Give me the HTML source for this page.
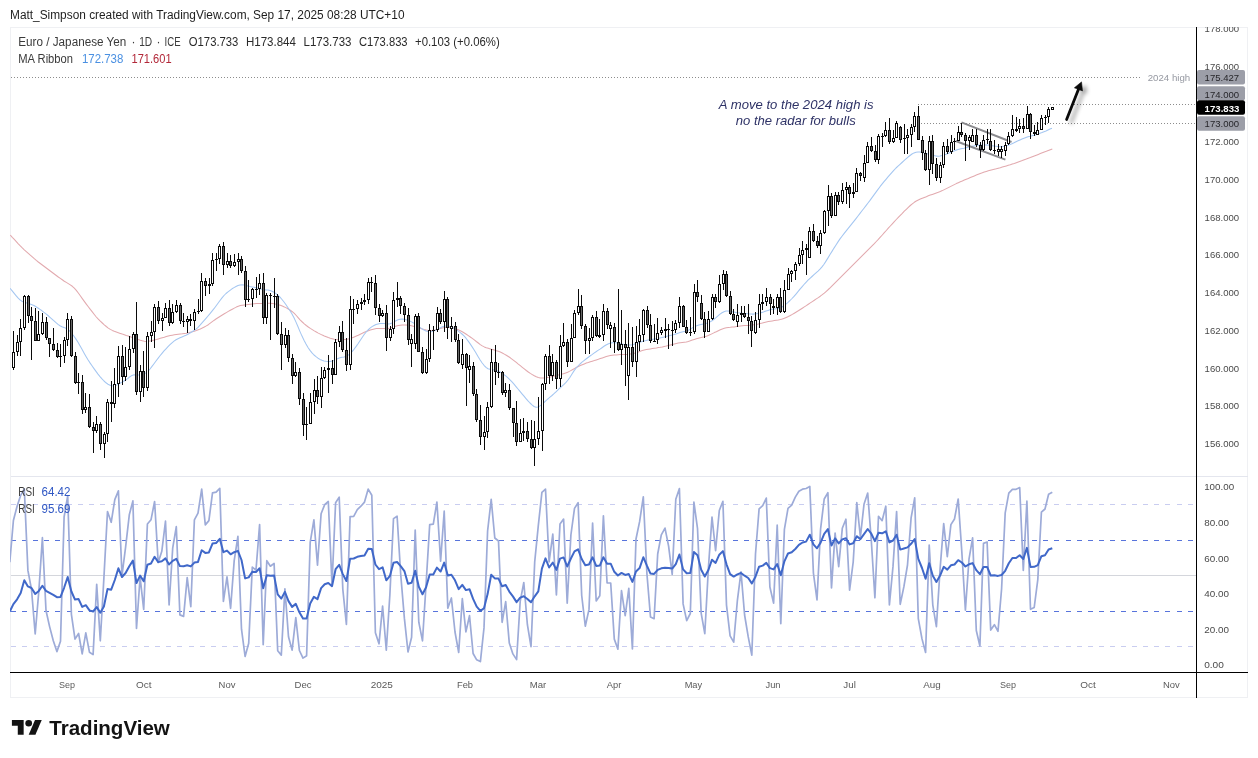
<!DOCTYPE html>
<html><head><meta charset="utf-8"><title>EUR/JPY chart</title>
<style>
html,body{margin:0;padding:0;background:#fff;}
body{width:1258px;height:758px;overflow:hidden;position:relative;font-family:"Liberation Sans",sans-serif;}
svg{position:absolute;left:0;top:0;display:block;will-change:transform}
svg text{font-family:"Liberation Sans",sans-serif;}
</style></head><body>
<svg width="1258" height="758" viewBox="0 0 1258 758">
<defs>
<filter id="sh" x="-50%" y="-50%" width="200%" height="200%"><feGaussianBlur stdDeviation="2"/></filter>
<clipPath id="cp"><rect x="10" y="27" width="1238" height="671"/></clipPath>
</defs>
<rect width="1258" height="758" fill="#fff"/>
<!-- frame -->
<rect x="10.5" y="27.5" width="1237" height="670" fill="none" stroke="#eff0f3" stroke-width="1"/>
<!-- pane separator -->
<rect x="11" y="476" width="1237" height="1" fill="#e4e6ee"/>
<!-- RSI guide lines -->
<g shape-rendering="crispEdges">
<line x1="11" x2="1193" y1="504.5" y2="504.5" stroke="#c9cdf0" stroke-width="1" stroke-dasharray="5 6.1"/>
<line x1="11" x2="1193" y1="540.5" y2="540.5" stroke="#5874dc" stroke-width="1" stroke-dasharray="5 6.1"/>
<line x1="11" x2="1196" y1="575.5" y2="575.5" stroke="#d4d6dc" stroke-width="1"/>
<line x1="11" x2="1193" y1="611.5" y2="611.5" stroke="#5874dc" stroke-width="1" stroke-dasharray="5 6.1"/>
<line x1="11" x2="1193" y1="646.5" y2="646.5" stroke="#c9cdf0" stroke-width="1" stroke-dasharray="5 6.1"/>
</g>
<!-- dotted price lines -->
<g shape-rendering="crispEdges" stroke="#8c8c8c" stroke-width="1" stroke-dasharray="1 2">
<line x1="11" x2="1142" y1="77.5" y2="77.5"/>
<line x1="918" x2="1196" y1="104.5" y2="104.5"/>
<line x1="921" x2="1196" y1="123.5" y2="123.5"/>
</g>
<g clip-path="url(#cp)">
<!-- moving averages -->
<polyline points="10.3,235.1 12.3,237.3 14.3,239.4 16.3,241.6 18.3,243.8 20.3,245.9 22.3,247.9 24.3,249.8 26.3,251.6 28.3,253.4 30.3,255.2 32.3,256.9 34.3,258.7 36.3,260.4 38.3,262.0 40.3,263.5 42.3,265.0 44.3,266.5 46.3,268.0 48.3,269.5 50.3,271.0 52.3,272.5 54.3,274.0 56.3,275.5 58.3,277.0 60.3,278.4 62.3,279.8 64.3,281.2 66.3,282.4 68.3,283.6 70.3,284.9 72.3,286.3 74.3,288.1 76.3,290.4 78.3,293.0 80.3,295.8 82.3,298.6 84.3,301.4 86.3,304.1 88.3,306.7 90.3,309.4 92.3,311.9 94.3,314.5 96.3,317.0 98.3,319.2 100.3,321.2 102.3,323.0 104.3,324.8 106.3,326.5 108.3,328.1 110.3,329.4 112.3,330.4 114.3,331.3 116.3,332.0 118.3,332.7 120.3,333.4 122.3,334.1 124.3,334.7 126.3,335.4 128.3,336.0 130.3,336.7 132.3,337.4 134.3,338.1 136.3,338.7 138.3,339.5 140.3,340.2 142.3,340.8 144.3,341.3 146.3,341.5 148.3,341.3 150.3,340.9 152.3,340.5 154.3,340.0 156.3,339.5 158.3,338.9 160.3,338.3 162.3,337.7 164.3,337.2 166.3,336.6 168.3,336.1 170.3,335.6 172.3,335.2 174.3,334.8 176.3,334.5 178.3,334.2 180.3,334.0 182.3,333.8 184.3,333.5 186.3,333.2 188.3,332.8 190.3,332.3 192.3,331.8 194.3,331.2 196.3,330.5 198.3,329.7 200.3,328.9 202.3,328.0 204.3,327.0 206.3,325.9 208.3,324.7 210.3,323.2 212.3,321.7 214.3,320.2 216.3,318.8 218.3,317.5 220.3,316.2 222.3,315.0 224.3,313.8 226.3,312.6 228.3,311.4 230.3,310.3 232.3,309.2 234.3,308.1 236.3,307.1 238.3,306.3 240.3,305.6 242.3,305.2 244.3,305.0 246.3,304.8 248.3,304.5 250.3,304.2 252.3,303.9 254.3,303.7 256.3,303.5 258.3,303.4 260.3,303.4 262.3,303.4 264.3,303.3 266.3,303.3 268.3,303.2 270.3,303.3 272.3,303.4 274.3,303.8 276.3,304.2 278.3,304.7 280.3,305.3 282.3,306.1 284.3,306.9 286.3,307.9 288.3,309.0 290.3,310.3 292.3,311.7 294.3,313.4 296.3,315.5 298.3,317.8 300.3,320.1 302.3,322.0 304.3,323.8 306.3,325.5 308.3,327.0 310.3,328.4 312.3,329.6 314.3,330.9 316.3,332.0 318.3,333.1 320.3,334.1 322.3,335.1 324.3,336.0 326.3,336.8 328.3,337.6 330.3,338.3 332.3,338.8 334.3,339.3 336.3,339.6 338.3,339.8 340.3,339.9 342.3,339.8 344.3,339.6 346.3,339.3 348.3,338.9 350.3,338.4 352.3,337.7 354.3,336.9 356.3,336.1 358.3,335.2 360.3,334.2 362.3,333.3 364.3,332.3 366.3,331.5 368.3,330.7 370.3,330.0 372.3,329.4 374.3,328.9 376.3,328.6 378.3,328.5 380.3,328.4 382.3,328.4 384.3,328.5 386.3,328.5 388.3,328.4 390.3,328.1 392.3,327.4 394.3,326.7 396.3,326.1 398.3,325.6 400.3,325.2 402.3,325.0 404.3,325.0 406.3,325.1 408.3,325.3 410.3,325.6 412.3,325.9 414.3,326.4 416.3,326.9 418.3,327.5 420.3,328.2 422.3,328.9 424.3,329.5 426.3,330.0 428.3,330.3 430.3,330.4 432.3,330.3 434.3,330.1 436.3,329.7 438.3,329.1 440.3,328.5 442.3,327.9 444.3,327.6 446.3,327.4 448.3,327.3 450.3,327.5 452.3,327.8 454.3,328.3 456.3,328.9 458.3,329.8 460.3,330.8 462.3,331.8 464.3,333.0 466.3,334.3 468.3,335.6 470.3,337.0 472.3,338.4 474.3,339.9 476.3,341.5 478.3,343.0 480.3,344.6 482.3,345.9 484.3,346.9 486.3,347.7 488.3,348.3 490.3,348.9 492.3,349.5 494.3,350.1 496.3,350.7 498.3,351.3 500.3,352.1 502.3,353.0 504.3,354.1 506.3,355.2 508.3,356.5 510.3,357.8 512.3,359.3 514.3,360.8 516.3,362.4 518.3,364.1 520.3,365.7 522.3,367.3 524.3,368.9 526.3,370.5 528.3,372.0 530.3,373.4 532.3,374.6 534.3,375.8 536.3,376.8 538.3,377.5 540.3,377.9 542.3,378.0 544.3,377.9 546.3,377.7 548.3,377.3 550.3,376.9 552.3,376.4 554.3,375.9 556.3,375.5 558.3,375.0 560.3,374.5 562.3,374.0 564.3,373.4 566.3,372.8 568.3,371.9 570.3,370.9 572.3,369.8 574.3,368.6 576.3,367.5 578.3,366.5 580.3,365.5 582.3,364.7 584.3,363.9 586.3,363.1 588.3,362.5 590.3,361.8 592.3,361.2 594.3,360.6 596.3,359.9 598.3,359.3 600.3,358.6 602.3,357.9 604.3,357.2 606.3,356.5 608.3,356.0 610.3,355.6 612.3,355.3 614.3,355.1 616.3,354.9 618.3,354.7 620.3,354.6 622.3,354.5 624.3,354.5 626.3,354.4 628.3,354.3 630.3,354.0 632.3,353.6 634.3,353.2 636.3,352.6 638.3,351.9 640.3,351.2 642.3,350.6 644.3,350.1 646.3,349.6 648.3,349.2 650.3,348.9 652.3,348.6 654.3,348.3 656.3,348.0 658.3,347.6 660.3,347.3 662.3,346.9 664.3,346.4 666.3,346.0 668.3,345.5 670.3,345.0 672.3,344.5 674.3,344.0 676.3,343.5 678.3,343.1 680.3,342.8 682.3,342.5 684.3,342.2 686.3,341.9 688.3,341.4 690.3,340.8 692.3,340.1 694.3,339.4 696.3,338.8 698.3,338.3 700.3,337.8 702.3,337.3 704.3,336.8 706.3,336.2 708.3,335.5 710.3,334.6 712.3,333.6 714.3,332.6 716.3,331.7 718.3,330.7 720.3,329.8 722.3,328.9 724.3,328.3 726.3,327.8 728.3,327.4 730.3,327.3 732.3,327.1 734.3,326.9 736.3,326.6 738.3,326.3 740.3,326.0 742.3,325.8 744.3,325.6 746.3,325.5 748.3,325.4 750.3,325.2 752.3,325.0 754.3,324.7 756.3,324.4 758.3,324.0 760.3,323.5 762.3,323.0 764.3,322.4 766.3,322.0 768.3,321.6 770.3,321.2 772.3,320.9 774.3,320.6 776.3,320.3 778.3,320.0 780.3,319.6 782.3,319.0 784.3,318.3 786.3,317.4 788.3,316.5 790.3,315.5 792.3,314.4 794.3,313.2 796.3,312.0 798.3,310.8 800.3,309.5 802.3,308.2 804.3,306.9 806.3,305.6 808.3,304.2 810.3,302.9 812.3,301.6 814.3,300.3 816.3,298.9 818.3,297.6 820.3,296.2 822.3,294.7 824.3,293.1 826.3,291.3 828.3,289.5 830.3,287.6 832.3,285.6 834.3,283.6 836.3,281.6 838.3,279.6 840.3,277.6 842.3,275.6 844.3,273.6 846.3,271.6 848.3,269.6 850.3,267.6 852.3,265.6 854.3,263.6 856.3,261.6 858.3,259.6 860.3,257.6 862.3,255.6 864.3,253.6 866.3,251.6 868.3,249.6 870.3,247.6 872.3,245.6 874.3,243.6 876.3,241.5 878.3,239.4 880.3,237.2 882.3,235.0 884.3,232.7 886.3,230.5 888.3,228.2 890.3,226.0 892.3,223.8 894.3,221.6 896.3,219.5 898.3,217.4 900.3,215.3 902.3,213.3 904.3,211.2 906.3,209.3 908.3,207.4 910.3,205.5 912.3,203.8 914.3,202.3 916.3,201.0 918.3,200.0 920.3,199.1 922.3,198.3 924.3,197.5 926.3,196.7 928.3,195.8 930.3,195.1 932.3,194.4 934.3,193.7 936.3,193.0 938.3,192.3 940.3,191.5 942.3,190.6 944.3,189.6 946.3,188.6 948.3,187.6 950.3,186.6 952.3,185.6 954.3,184.6 956.3,183.6 958.3,182.7 960.3,181.8 962.3,181.0 964.3,180.1 966.3,179.2 968.3,178.4 970.3,177.5 972.3,176.7 974.3,175.9 976.3,175.1 978.3,174.3 980.3,173.5 982.3,172.8 984.3,172.0 986.3,171.4 988.3,170.8 990.3,170.3 992.3,169.8 994.3,169.3 996.3,168.8 998.3,168.2 1000.3,167.7 1002.3,167.1 1004.3,166.5 1006.3,165.9 1008.3,165.3 1010.3,164.7 1012.3,164.0 1014.3,163.4 1016.3,162.7 1018.3,162.0 1020.3,161.3 1022.3,160.6 1024.3,159.8 1026.3,159.1 1028.3,158.3 1030.3,157.6 1032.3,156.8 1034.3,156.0 1036.3,155.2 1038.3,154.4 1040.3,153.6 1042.3,152.8 1044.3,152.0 1046.3,151.3 1048.3,150.5 1050.3,149.7 1052.3,148.9 1052.3,148.9" fill="none" stroke="#e2a9ae" stroke-width="1.05" stroke-linejoin="round"/>
<polyline points="10.0,288.3 12.0,290.7 14.0,293.2 16.0,295.6 18.0,297.9 20.0,299.9 22.0,301.3 24.0,302.2 26.0,302.8 28.0,303.4 30.0,304.0 32.0,304.7 34.0,305.5 36.0,306.7 38.0,308.0 40.0,309.4 42.0,310.8 44.0,312.3 46.0,313.8 48.0,315.5 50.0,317.3 52.0,319.1 54.0,320.9 56.0,322.7 58.0,324.4 60.0,325.7 62.0,326.7 64.0,327.5 66.0,328.3 68.0,329.5 70.0,331.4 72.0,333.7 74.0,336.3 76.0,339.1 78.0,342.3 80.0,345.7 82.0,349.3 84.0,352.9 86.0,356.4 88.0,359.8 90.0,362.9 92.0,365.8 94.0,368.6 96.0,371.4 98.0,374.1 100.0,376.6 102.0,378.9 104.0,381.0 106.0,382.8 108.0,384.2 110.0,385.2 112.0,385.8 114.0,385.9 116.0,385.4 118.0,384.4 120.0,383.2 122.0,382.1 124.0,381.0 126.0,379.8 128.0,378.3 130.0,376.7 132.0,375.4 134.0,374.8 136.0,374.9 138.0,375.0 140.0,374.9 142.0,374.5 144.0,373.9 146.0,372.9 148.0,371.3 150.0,369.0 152.0,366.4 154.0,363.7 156.0,361.0 158.0,358.4 160.0,355.8 162.0,353.3 164.0,350.9 166.0,348.8 168.0,346.7 170.0,344.7 172.0,342.8 174.0,341.1 176.0,339.8 178.0,338.7 180.0,337.8 182.0,336.9 184.0,336.1 186.0,335.2 188.0,334.2 190.0,333.0 192.0,331.8 194.0,330.5 196.0,329.1 198.0,327.3 200.0,325.2 202.0,322.9 204.0,320.7 206.0,318.4 208.0,316.0 210.0,313.7 212.0,311.2 214.0,308.7 216.0,306.0 218.0,303.3 220.0,300.5 222.0,297.9 224.0,295.5 226.0,293.5 228.0,291.8 230.0,290.3 232.0,288.8 234.0,287.6 236.0,286.5 238.0,285.5 240.0,284.9 242.0,284.8 244.0,285.0 246.0,285.5 248.0,286.0 250.0,286.5 252.0,286.9 254.0,287.3 256.0,287.8 258.0,288.3 260.0,288.7 262.0,289.2 264.0,289.6 266.0,289.9 268.0,290.1 270.0,290.5 272.0,291.2 274.0,292.3 276.0,293.6 278.0,295.3 280.0,297.2 282.0,299.5 284.0,302.0 286.0,304.8 288.0,307.7 290.0,310.8 292.0,314.1 294.0,317.8 296.0,322.1 298.0,326.8 300.0,331.6 302.0,336.1 304.0,340.3 306.0,344.1 308.0,347.5 310.0,350.4 312.0,352.9 314.0,355.0 316.0,356.7 318.0,358.2 320.0,359.4 322.0,360.3 324.0,360.9 326.0,361.3 328.0,361.5 330.0,361.4 332.0,361.0 334.0,360.4 336.0,359.5 338.0,358.6 340.0,357.8 342.0,357.3 344.0,357.0 346.0,356.4 348.0,355.3 350.0,353.7 352.0,351.6 354.0,349.3 356.0,346.6 358.0,343.8 360.0,340.8 362.0,337.7 364.0,334.8 366.0,332.2 368.0,330.0 370.0,328.2 372.0,326.6 374.0,325.5 376.0,324.5 378.0,323.9 380.0,323.6 382.0,323.5 384.0,323.6 386.0,323.8 388.0,324.0 390.0,323.8 392.0,323.0 394.0,321.8 396.0,320.7 398.0,319.8 400.0,319.2 402.0,319.0 404.0,319.2 406.0,319.7 408.0,320.3 410.0,321.1 412.0,322.1 414.0,323.2 416.0,324.5 418.0,325.8 420.0,327.3 422.0,328.8 424.0,330.1 426.0,331.0 428.0,331.6 430.0,331.7 432.0,331.4 434.0,330.7 436.0,329.9 438.0,329.0 440.0,328.0 442.0,327.0 444.0,326.3 446.0,325.9 448.0,326.1 450.0,326.6 452.0,327.4 454.0,328.4 456.0,329.6 458.0,330.9 460.0,332.4 462.0,334.0 464.0,335.9 466.0,338.2 468.0,340.9 470.0,343.6 472.0,346.6 474.0,349.7 476.0,353.0 478.0,356.4 480.0,359.7 482.0,362.7 484.0,365.3 486.0,367.4 488.0,368.7 490.0,369.2 492.0,369.5 494.0,369.9 496.0,370.5 498.0,371.2 500.0,372.0 502.0,373.1 504.0,374.6 506.0,376.2 508.0,377.9 510.0,379.8 512.0,381.9 514.0,384.2 516.0,386.6 518.0,389.0 520.0,391.4 522.0,393.8 524.0,396.2 526.0,398.6 528.0,400.9 530.0,403.0 532.0,404.9 534.0,406.5 536.0,407.3 538.0,407.0 540.0,405.9 542.0,404.3 544.0,402.5 546.0,400.6 548.0,398.8 550.0,397.1 552.0,395.5 554.0,393.7 556.0,391.8 558.0,389.9 560.0,388.0 562.0,386.1 564.0,384.3 566.0,382.3 568.0,380.0 570.0,377.2 572.0,374.0 574.0,370.9 576.0,368.2 578.0,366.0 580.0,364.0 582.0,362.2 584.0,360.6 586.0,359.0 588.0,357.5 590.0,356.0 592.0,354.6 594.0,353.1 596.0,351.8 598.0,350.4 600.0,349.1 602.0,347.7 604.0,346.3 606.0,345.0 608.0,344.0 610.0,343.3 612.0,342.8 614.0,342.7 616.0,342.7 618.0,343.0 620.0,343.4 622.0,343.9 624.0,344.4 626.0,344.9 628.0,345.1 630.0,345.0 632.0,344.7 634.0,344.2 636.0,343.6 638.0,342.9 640.0,342.2 642.0,341.6 644.0,341.0 646.0,340.6 648.0,340.1 650.0,339.7 652.0,339.4 654.0,339.0 656.0,338.7 658.0,338.4 660.0,338.0 662.0,337.6 664.0,337.1 666.0,336.5 668.0,336.0 670.0,335.5 672.0,335.1 674.0,334.6 676.0,333.9 678.0,333.2 680.0,332.6 682.0,332.0 684.0,331.6 686.0,331.2 688.0,330.5 690.0,329.4 692.0,328.1 694.0,326.9 696.0,325.9 698.0,325.2 700.0,324.7 702.0,324.3 704.0,323.9 706.0,323.5 708.0,322.8 710.0,321.9 712.0,320.7 714.0,319.3 716.0,317.6 718.0,315.8 720.0,314.1 722.0,312.7 724.0,311.7 726.0,311.1 728.0,311.0 730.0,311.3 732.0,311.7 734.0,312.1 736.0,312.5 738.0,312.8 740.0,313.0 742.0,313.2 744.0,313.4 746.0,313.6 748.0,313.8 750.0,314.0 752.0,314.1 754.0,314.1 756.0,313.8 758.0,313.5 760.0,313.0 762.0,312.4 764.0,311.8 766.0,311.1 768.0,310.4 770.0,309.8 772.0,309.2 774.0,308.9 776.0,308.7 778.0,308.4 780.0,307.9 782.0,307.0 784.0,305.7 786.0,304.1 788.0,302.4 790.0,300.5 792.0,298.5 794.0,296.4 796.0,294.1 798.0,291.7 800.0,289.2 802.0,286.8 804.0,284.5 806.0,282.3 808.0,280.2 810.0,278.3 812.0,276.5 814.0,274.7 816.0,272.9 818.0,271.1 820.0,269.2 822.0,266.9 824.0,264.2 826.0,261.1 828.0,257.9 830.0,254.6 832.0,251.4 834.0,248.1 836.0,245.0 838.0,241.9 840.0,238.9 842.0,236.2 844.0,233.6 846.0,231.1 848.0,228.7 850.0,226.2 852.0,223.7 854.0,221.2 856.0,218.6 858.0,216.0 860.0,213.4 862.0,210.8 864.0,208.2 866.0,205.6 868.0,203.0 870.0,200.4 872.0,197.6 874.0,194.9 876.0,192.1 878.0,189.4 880.0,186.7 882.0,184.2 884.0,181.7 886.0,179.3 888.0,176.9 890.0,174.6 892.0,172.3 894.0,170.1 896.0,168.0 898.0,166.1 900.0,164.3 902.0,162.5 904.0,160.7 906.0,158.9 908.0,157.2 910.0,155.5 912.0,154.0 914.0,152.9 916.0,152.2 918.0,152.0 920.0,152.1 922.0,152.5 924.0,153.1 926.0,153.6 928.0,154.1 930.0,154.6 932.0,155.1 934.0,155.6 936.0,155.9 938.0,156.2 940.0,156.1 942.0,155.6 944.0,154.9 946.0,154.2 948.0,153.4 950.0,152.6 952.0,151.8 954.0,151.0 956.0,150.3 958.0,149.6 960.0,149.1 962.0,148.6 964.0,148.2 966.0,147.7 968.0,147.2 970.0,146.8 972.0,146.3 974.0,145.9 976.0,145.6 978.0,145.3 980.0,145.1 982.0,145.0 984.0,144.9 986.0,144.9 988.0,145.1 990.0,145.4 992.0,145.7 994.0,146.1 996.0,146.3 998.0,146.6 1000.0,146.7 1002.0,146.5 1004.0,146.2 1006.0,145.8 1008.0,145.2 1010.0,144.5 1012.0,143.7 1014.0,142.8 1016.0,141.8 1018.0,140.8 1020.0,139.9 1022.0,139.0 1024.0,138.2 1026.0,137.5 1028.0,136.8 1030.0,136.3 1032.0,135.7 1034.0,135.2 1036.0,134.7 1038.0,134.0 1040.0,133.3 1042.0,132.6 1044.0,131.7 1046.0,130.9 1048.0,130.0 1050.0,129.1 1052.0,128.3 1052.0,128.3" fill="none" stroke="#a4c6f1" stroke-width="1.05" stroke-linejoin="round"/>
<!-- channel -->
<line x1="961.5" y1="122.4" x2="1011.5" y2="142" stroke="#8a8a8e" stroke-width="2"/>
<line x1="955.7" y1="141" x2="1005.4" y2="159.6" stroke="#8a8a8e" stroke-width="2"/>
<!-- candles -->
<g shape-rendering="crispEdges">
<rect x="13.00" y="331" width="1.0" height="39" fill="#0a0a0a"/>
<rect x="12.00" y="352" width="3.0" height="16" fill="#0a0a0a"/>
<rect x="13.00" y="353" width="1" height="14" fill="#fff"/>
<rect x="17.00" y="335" width="1.0" height="21" fill="#0a0a0a"/>
<rect x="16.00" y="342" width="3.0" height="10" fill="#0a0a0a"/>
<rect x="17.00" y="343" width="1" height="8" fill="#fff"/>
<rect x="20.00" y="319" width="1.0" height="37" fill="#0a0a0a"/>
<rect x="19.00" y="328" width="3.0" height="14" fill="#0a0a0a"/>
<rect x="20.00" y="329" width="1" height="12" fill="#fff"/>
<rect x="24.00" y="295" width="1.0" height="35" fill="#0a0a0a"/>
<rect x="23.00" y="296" width="3.0" height="32" fill="#0a0a0a"/>
<rect x="24.00" y="297" width="1" height="30" fill="#fff"/>
<rect x="28.00" y="295" width="1.0" height="28" fill="#0a0a0a"/>
<rect x="27.00" y="296" width="3.0" height="20" fill="#0a0a0a"/>
<rect x="28.00" y="297" width="1" height="18" fill="#666"/>
<rect x="31.00" y="307" width="1.0" height="53" fill="#0a0a0a"/>
<rect x="30.00" y="316" width="3.0" height="5" fill="#0a0a0a"/>
<rect x="31.00" y="317" width="1" height="3" fill="#666"/>
<rect x="35.00" y="308" width="1.0" height="33" fill="#0a0a0a"/>
<rect x="34.00" y="321" width="3.0" height="20" fill="#0a0a0a"/>
<rect x="35.00" y="322" width="1" height="18" fill="#666"/>
<rect x="38.00" y="311" width="1.0" height="30" fill="#0a0a0a"/>
<rect x="37.00" y="334" width="3.0" height="7" fill="#0a0a0a"/>
<rect x="38.00" y="335" width="1" height="5" fill="#fff"/>
<rect x="42.00" y="313" width="1.0" height="22" fill="#0a0a0a"/>
<rect x="41.00" y="322" width="3.0" height="12" fill="#0a0a0a"/>
<rect x="42.00" y="323" width="1" height="10" fill="#fff"/>
<rect x="46.00" y="317" width="1.0" height="23" fill="#0a0a0a"/>
<rect x="45.00" y="322" width="3.0" height="16" fill="#0a0a0a"/>
<rect x="46.00" y="323" width="1" height="14" fill="#666"/>
<rect x="49.00" y="338" width="1.0" height="19" fill="#0a0a0a"/>
<rect x="48.00" y="338" width="3.0" height="6" fill="#0a0a0a"/>
<rect x="49.00" y="339" width="1" height="4" fill="#666"/>
<rect x="53.00" y="328" width="1.0" height="23" fill="#0a0a0a"/>
<rect x="52.00" y="344" width="3.0" height="6" fill="#0a0a0a"/>
<rect x="53.00" y="345" width="1" height="4" fill="#666"/>
<rect x="57.00" y="343" width="1.0" height="15" fill="#0a0a0a"/>
<rect x="56.00" y="350" width="3.0" height="7" fill="#0a0a0a"/>
<rect x="57.00" y="351" width="1" height="5" fill="#666"/>
<rect x="60.00" y="344" width="1.0" height="23" fill="#0a0a0a"/>
<rect x="59.00" y="356" width="3.0" height="1" fill="#0a0a0a"/>
<rect x="64.00" y="337" width="1.0" height="26" fill="#0a0a0a"/>
<rect x="63.00" y="340" width="3.0" height="16" fill="#0a0a0a"/>
<rect x="64.00" y="341" width="1" height="14" fill="#fff"/>
<rect x="67.00" y="313" width="1.0" height="33" fill="#0a0a0a"/>
<rect x="66.00" y="319" width="3.0" height="21" fill="#0a0a0a"/>
<rect x="67.00" y="320" width="1" height="19" fill="#fff"/>
<rect x="71.00" y="316" width="1.0" height="41" fill="#0a0a0a"/>
<rect x="70.00" y="319" width="3.0" height="37" fill="#0a0a0a"/>
<rect x="71.00" y="320" width="1" height="35" fill="#666"/>
<rect x="75.00" y="352" width="1.0" height="32" fill="#0a0a0a"/>
<rect x="74.00" y="356" width="3.0" height="27" fill="#0a0a0a"/>
<rect x="75.00" y="357" width="1" height="25" fill="#666"/>
<rect x="78.00" y="373" width="1.0" height="21" fill="#0a0a0a"/>
<rect x="77.00" y="382" width="3.0" height="1" fill="#0a0a0a"/>
<rect x="82.00" y="375" width="1.0" height="39" fill="#0a0a0a"/>
<rect x="81.00" y="382" width="3.0" height="28" fill="#0a0a0a"/>
<rect x="82.00" y="383" width="1" height="26" fill="#666"/>
<rect x="85.00" y="393" width="1.0" height="20" fill="#0a0a0a"/>
<rect x="84.00" y="407" width="3.0" height="3" fill="#0a0a0a"/>
<rect x="85.00" y="408" width="1" height="1" fill="#fff"/>
<rect x="89.00" y="394" width="1.0" height="34" fill="#0a0a0a"/>
<rect x="88.00" y="407" width="3.0" height="20" fill="#0a0a0a"/>
<rect x="89.00" y="408" width="1" height="18" fill="#666"/>
<rect x="93.00" y="422" width="1.0" height="31" fill="#0a0a0a"/>
<rect x="92.00" y="427" width="3.0" height="4" fill="#0a0a0a"/>
<rect x="93.00" y="428" width="1" height="2" fill="#666"/>
<rect x="96.00" y="416" width="1.0" height="17" fill="#0a0a0a"/>
<rect x="95.00" y="424" width="3.0" height="7" fill="#0a0a0a"/>
<rect x="96.00" y="425" width="1" height="5" fill="#fff"/>
<rect x="100.00" y="422" width="1.0" height="28" fill="#0a0a0a"/>
<rect x="99.00" y="424" width="3.0" height="20" fill="#0a0a0a"/>
<rect x="100.00" y="425" width="1" height="18" fill="#666"/>
<rect x="104.00" y="432" width="1.0" height="26" fill="#0a0a0a"/>
<rect x="103.00" y="434" width="3.0" height="10" fill="#0a0a0a"/>
<rect x="104.00" y="435" width="1" height="8" fill="#fff"/>
<rect x="107.00" y="399" width="1.0" height="43" fill="#0a0a0a"/>
<rect x="106.00" y="402" width="3.0" height="32" fill="#0a0a0a"/>
<rect x="107.00" y="403" width="1" height="30" fill="#fff"/>
<rect x="111.00" y="381" width="1.0" height="41" fill="#0a0a0a"/>
<rect x="110.00" y="402" width="3.0" height="2" fill="#0a0a0a"/>
<rect x="114.00" y="368" width="1.0" height="40" fill="#0a0a0a"/>
<rect x="113.00" y="384" width="3.0" height="20" fill="#0a0a0a"/>
<rect x="114.00" y="385" width="1" height="18" fill="#fff"/>
<rect x="118.00" y="346" width="1.0" height="51" fill="#0a0a0a"/>
<rect x="117.00" y="356" width="3.0" height="28" fill="#0a0a0a"/>
<rect x="118.00" y="357" width="1" height="26" fill="#fff"/>
<rect x="122.00" y="345" width="1.0" height="40" fill="#0a0a0a"/>
<rect x="121.00" y="356" width="3.0" height="21" fill="#0a0a0a"/>
<rect x="122.00" y="357" width="1" height="19" fill="#666"/>
<rect x="125.00" y="347" width="1.0" height="34" fill="#0a0a0a"/>
<rect x="124.00" y="367" width="3.0" height="10" fill="#0a0a0a"/>
<rect x="125.00" y="368" width="1" height="8" fill="#fff"/>
<rect x="129.00" y="336" width="1.0" height="34" fill="#0a0a0a"/>
<rect x="128.00" y="349" width="3.0" height="18" fill="#0a0a0a"/>
<rect x="129.00" y="350" width="1" height="16" fill="#fff"/>
<rect x="133.00" y="332" width="1.0" height="21" fill="#0a0a0a"/>
<rect x="132.00" y="334" width="3.0" height="15" fill="#0a0a0a"/>
<rect x="133.00" y="335" width="1" height="13" fill="#fff"/>
<rect x="136.00" y="302" width="1.0" height="93" fill="#0a0a0a"/>
<rect x="135.00" y="334" width="3.0" height="58" fill="#0a0a0a"/>
<rect x="136.00" y="335" width="1" height="56" fill="#666"/>
<rect x="140.00" y="365" width="1.0" height="37" fill="#0a0a0a"/>
<rect x="139.00" y="371" width="3.0" height="21" fill="#0a0a0a"/>
<rect x="140.00" y="372" width="1" height="19" fill="#fff"/>
<rect x="143.00" y="351" width="1.0" height="46" fill="#0a0a0a"/>
<rect x="142.00" y="371" width="3.0" height="17" fill="#0a0a0a"/>
<rect x="143.00" y="372" width="1" height="15" fill="#666"/>
<rect x="147.00" y="332" width="1.0" height="59" fill="#0a0a0a"/>
<rect x="146.00" y="336" width="3.0" height="52" fill="#0a0a0a"/>
<rect x="147.00" y="337" width="1" height="50" fill="#fff"/>
<rect x="151.00" y="321" width="1.0" height="21" fill="#0a0a0a"/>
<rect x="150.00" y="332" width="3.0" height="4" fill="#0a0a0a"/>
<rect x="151.00" y="333" width="1" height="2" fill="#fff"/>
<rect x="154.00" y="304" width="1.0" height="44" fill="#0a0a0a"/>
<rect x="153.00" y="307" width="3.0" height="25" fill="#0a0a0a"/>
<rect x="154.00" y="308" width="1" height="23" fill="#fff"/>
<rect x="158.00" y="301" width="1.0" height="23" fill="#0a0a0a"/>
<rect x="157.00" y="307" width="3.0" height="14" fill="#0a0a0a"/>
<rect x="158.00" y="308" width="1" height="12" fill="#666"/>
<rect x="162.00" y="313" width="1.0" height="18" fill="#0a0a0a"/>
<rect x="161.00" y="318" width="3.0" height="3" fill="#0a0a0a"/>
<rect x="162.00" y="319" width="1" height="1" fill="#fff"/>
<rect x="165.00" y="303" width="1.0" height="15" fill="#0a0a0a"/>
<rect x="164.00" y="308" width="3.0" height="10" fill="#0a0a0a"/>
<rect x="165.00" y="309" width="1" height="8" fill="#fff"/>
<rect x="169.00" y="300" width="1.0" height="26" fill="#0a0a0a"/>
<rect x="168.00" y="308" width="3.0" height="15" fill="#0a0a0a"/>
<rect x="169.00" y="309" width="1" height="13" fill="#666"/>
<rect x="172.00" y="304" width="1.0" height="20" fill="#0a0a0a"/>
<rect x="171.00" y="312" width="3.0" height="11" fill="#0a0a0a"/>
<rect x="172.00" y="313" width="1" height="9" fill="#fff"/>
<rect x="176.00" y="300" width="1.0" height="13" fill="#0a0a0a"/>
<rect x="175.00" y="305" width="3.0" height="7" fill="#0a0a0a"/>
<rect x="176.00" y="306" width="1" height="5" fill="#fff"/>
<rect x="180.00" y="303" width="1.0" height="21" fill="#0a0a0a"/>
<rect x="179.00" y="305" width="3.0" height="16" fill="#0a0a0a"/>
<rect x="180.00" y="306" width="1" height="14" fill="#666"/>
<rect x="183.00" y="313" width="1.0" height="14" fill="#0a0a0a"/>
<rect x="182.00" y="321" width="3.0" height="1" fill="#0a0a0a"/>
<rect x="187.00" y="316" width="1.0" height="17" fill="#0a0a0a"/>
<rect x="186.00" y="319" width="3.0" height="3" fill="#0a0a0a"/>
<rect x="187.00" y="320" width="1" height="1" fill="#fff"/>
<rect x="190.00" y="314" width="1.0" height="12" fill="#0a0a0a"/>
<rect x="189.00" y="319" width="3.0" height="2" fill="#0a0a0a"/>
<rect x="194.00" y="309" width="1.0" height="21" fill="#0a0a0a"/>
<rect x="193.00" y="312" width="3.0" height="9" fill="#0a0a0a"/>
<rect x="194.00" y="313" width="1" height="7" fill="#fff"/>
<rect x="198.00" y="299" width="1.0" height="15" fill="#0a0a0a"/>
<rect x="197.00" y="311" width="3.0" height="1" fill="#0a0a0a"/>
<rect x="201.00" y="273" width="1.0" height="39" fill="#0a0a0a"/>
<rect x="200.00" y="281" width="3.0" height="30" fill="#0a0a0a"/>
<rect x="201.00" y="282" width="1" height="28" fill="#fff"/>
<rect x="205.00" y="278" width="1.0" height="18" fill="#0a0a0a"/>
<rect x="204.00" y="281" width="3.0" height="5" fill="#0a0a0a"/>
<rect x="205.00" y="282" width="1" height="3" fill="#666"/>
<rect x="209.00" y="278" width="1.0" height="16" fill="#0a0a0a"/>
<rect x="208.00" y="284" width="3.0" height="2" fill="#0a0a0a"/>
<rect x="212.00" y="253" width="1.0" height="33" fill="#0a0a0a"/>
<rect x="211.00" y="260" width="3.0" height="24" fill="#0a0a0a"/>
<rect x="212.00" y="261" width="1" height="22" fill="#fff"/>
<rect x="216.00" y="253" width="1.0" height="18" fill="#0a0a0a"/>
<rect x="215.00" y="259" width="3.0" height="1" fill="#0a0a0a"/>
<rect x="219.00" y="244" width="1.0" height="20" fill="#0a0a0a"/>
<rect x="218.00" y="246" width="3.0" height="13" fill="#0a0a0a"/>
<rect x="219.00" y="247" width="1" height="11" fill="#fff"/>
<rect x="223.00" y="242" width="1.0" height="33" fill="#0a0a0a"/>
<rect x="222.00" y="246" width="3.0" height="19" fill="#0a0a0a"/>
<rect x="223.00" y="247" width="1" height="17" fill="#666"/>
<rect x="227.00" y="253" width="1.0" height="15" fill="#0a0a0a"/>
<rect x="226.00" y="261" width="3.0" height="4" fill="#0a0a0a"/>
<rect x="227.00" y="262" width="1" height="2" fill="#fff"/>
<rect x="230.00" y="255" width="1.0" height="13" fill="#0a0a0a"/>
<rect x="229.00" y="261" width="3.0" height="5" fill="#0a0a0a"/>
<rect x="230.00" y="262" width="1" height="3" fill="#666"/>
<rect x="234.00" y="254" width="1.0" height="13" fill="#0a0a0a"/>
<rect x="233.00" y="262" width="3.0" height="4" fill="#0a0a0a"/>
<rect x="234.00" y="263" width="1" height="2" fill="#fff"/>
<rect x="238.00" y="253" width="1.0" height="22" fill="#0a0a0a"/>
<rect x="237.00" y="259" width="3.0" height="3" fill="#0a0a0a"/>
<rect x="238.00" y="260" width="1" height="1" fill="#fff"/>
<rect x="241.00" y="256" width="1.0" height="17" fill="#0a0a0a"/>
<rect x="240.00" y="259" width="3.0" height="12" fill="#0a0a0a"/>
<rect x="241.00" y="260" width="1" height="10" fill="#666"/>
<rect x="245.00" y="266" width="1.0" height="41" fill="#0a0a0a"/>
<rect x="244.00" y="271" width="3.0" height="29" fill="#0a0a0a"/>
<rect x="245.00" y="272" width="1" height="27" fill="#666"/>
<rect x="248.00" y="280" width="1.0" height="22" fill="#0a0a0a"/>
<rect x="247.00" y="299" width="3.0" height="1" fill="#0a0a0a"/>
<rect x="252.00" y="288" width="1.0" height="19" fill="#0a0a0a"/>
<rect x="251.00" y="289" width="3.0" height="10" fill="#0a0a0a"/>
<rect x="252.00" y="290" width="1" height="8" fill="#fff"/>
<rect x="256.00" y="277" width="1.0" height="21" fill="#0a0a0a"/>
<rect x="255.00" y="289" width="3.0" height="1" fill="#0a0a0a"/>
<rect x="259.00" y="274" width="1.0" height="21" fill="#0a0a0a"/>
<rect x="258.00" y="283" width="3.0" height="6" fill="#0a0a0a"/>
<rect x="259.00" y="284" width="1" height="4" fill="#fff"/>
<rect x="263.00" y="273" width="1.0" height="51" fill="#0a0a0a"/>
<rect x="262.00" y="283" width="3.0" height="35" fill="#0a0a0a"/>
<rect x="263.00" y="284" width="1" height="33" fill="#666"/>
<rect x="266.00" y="293" width="1.0" height="31" fill="#0a0a0a"/>
<rect x="265.00" y="295" width="3.0" height="23" fill="#0a0a0a"/>
<rect x="266.00" y="296" width="1" height="21" fill="#fff"/>
<rect x="270.00" y="293" width="1.0" height="47" fill="#0a0a0a"/>
<rect x="269.00" y="295" width="3.0" height="1" fill="#0a0a0a"/>
<rect x="274.00" y="278" width="1.0" height="30" fill="#0a0a0a"/>
<rect x="273.00" y="296" width="3.0" height="1" fill="#0a0a0a"/>
<rect x="277.00" y="294" width="1.0" height="41" fill="#0a0a0a"/>
<rect x="276.00" y="296" width="3.0" height="38" fill="#0a0a0a"/>
<rect x="277.00" y="297" width="1" height="36" fill="#666"/>
<rect x="281.00" y="322" width="1.0" height="48" fill="#0a0a0a"/>
<rect x="280.00" y="334" width="3.0" height="11" fill="#0a0a0a"/>
<rect x="281.00" y="335" width="1" height="9" fill="#666"/>
<rect x="285.00" y="328" width="1.0" height="20" fill="#0a0a0a"/>
<rect x="284.00" y="335" width="3.0" height="10" fill="#0a0a0a"/>
<rect x="285.00" y="336" width="1" height="8" fill="#fff"/>
<rect x="288.00" y="330" width="1.0" height="32" fill="#0a0a0a"/>
<rect x="287.00" y="335" width="3.0" height="23" fill="#0a0a0a"/>
<rect x="288.00" y="336" width="1" height="21" fill="#666"/>
<rect x="292.00" y="354" width="1.0" height="30" fill="#0a0a0a"/>
<rect x="291.00" y="358" width="3.0" height="18" fill="#0a0a0a"/>
<rect x="292.00" y="359" width="1" height="16" fill="#666"/>
<rect x="295.00" y="362" width="1.0" height="15" fill="#0a0a0a"/>
<rect x="294.00" y="372" width="3.0" height="4" fill="#0a0a0a"/>
<rect x="295.00" y="373" width="1" height="2" fill="#fff"/>
<rect x="299.00" y="368" width="1.0" height="37" fill="#0a0a0a"/>
<rect x="298.00" y="372" width="3.0" height="27" fill="#0a0a0a"/>
<rect x="299.00" y="373" width="1" height="25" fill="#666"/>
<rect x="303.00" y="393" width="1.0" height="43" fill="#0a0a0a"/>
<rect x="302.00" y="399" width="3.0" height="26" fill="#0a0a0a"/>
<rect x="303.00" y="400" width="1" height="24" fill="#666"/>
<rect x="306.00" y="407" width="1.0" height="33" fill="#0a0a0a"/>
<rect x="305.00" y="424" width="3.0" height="1" fill="#0a0a0a"/>
<rect x="310.00" y="393" width="1.0" height="31" fill="#0a0a0a"/>
<rect x="309.00" y="402" width="3.0" height="22" fill="#0a0a0a"/>
<rect x="310.00" y="403" width="1" height="20" fill="#fff"/>
<rect x="314.00" y="379" width="1.0" height="35" fill="#0a0a0a"/>
<rect x="313.00" y="390" width="3.0" height="12" fill="#0a0a0a"/>
<rect x="314.00" y="391" width="1" height="10" fill="#fff"/>
<rect x="317.00" y="376" width="1.0" height="28" fill="#0a0a0a"/>
<rect x="316.00" y="390" width="3.0" height="7" fill="#0a0a0a"/>
<rect x="317.00" y="391" width="1" height="5" fill="#666"/>
<rect x="321.00" y="367" width="1.0" height="41" fill="#0a0a0a"/>
<rect x="320.00" y="378" width="3.0" height="19" fill="#0a0a0a"/>
<rect x="321.00" y="379" width="1" height="17" fill="#fff"/>
<rect x="324.00" y="367" width="1.0" height="12" fill="#0a0a0a"/>
<rect x="323.00" y="370" width="3.0" height="8" fill="#0a0a0a"/>
<rect x="324.00" y="371" width="1" height="6" fill="#fff"/>
<rect x="328.00" y="355" width="1.0" height="38" fill="#0a0a0a"/>
<rect x="327.00" y="368" width="3.0" height="2" fill="#0a0a0a"/>
<rect x="332.00" y="360" width="1.0" height="24" fill="#0a0a0a"/>
<rect x="331.00" y="368" width="3.0" height="7" fill="#0a0a0a"/>
<rect x="332.00" y="369" width="1" height="5" fill="#666"/>
<rect x="335.00" y="339" width="1.0" height="36" fill="#0a0a0a"/>
<rect x="334.00" y="342" width="3.0" height="33" fill="#0a0a0a"/>
<rect x="335.00" y="343" width="1" height="31" fill="#fff"/>
<rect x="339.00" y="326" width="1.0" height="21" fill="#0a0a0a"/>
<rect x="338.00" y="332" width="3.0" height="10" fill="#0a0a0a"/>
<rect x="339.00" y="333" width="1" height="8" fill="#fff"/>
<rect x="342.00" y="321" width="1.0" height="31" fill="#0a0a0a"/>
<rect x="341.00" y="332" width="3.0" height="18" fill="#0a0a0a"/>
<rect x="342.00" y="333" width="1" height="16" fill="#666"/>
<rect x="346.00" y="338" width="1.0" height="33" fill="#0a0a0a"/>
<rect x="345.00" y="350" width="3.0" height="15" fill="#0a0a0a"/>
<rect x="346.00" y="351" width="1" height="13" fill="#666"/>
<rect x="350.00" y="296" width="1.0" height="74" fill="#0a0a0a"/>
<rect x="349.00" y="309" width="3.0" height="56" fill="#0a0a0a"/>
<rect x="350.00" y="310" width="1" height="54" fill="#fff"/>
<rect x="353.00" y="299" width="1.0" height="25" fill="#0a0a0a"/>
<rect x="352.00" y="309" width="3.0" height="1" fill="#0a0a0a"/>
<rect x="357.00" y="300" width="1.0" height="14" fill="#0a0a0a"/>
<rect x="356.00" y="304" width="3.0" height="5" fill="#0a0a0a"/>
<rect x="357.00" y="305" width="1" height="3" fill="#fff"/>
<rect x="361.00" y="298" width="1.0" height="12" fill="#0a0a0a"/>
<rect x="360.00" y="302" width="3.0" height="2" fill="#0a0a0a"/>
<rect x="364.00" y="294" width="1.0" height="11" fill="#0a0a0a"/>
<rect x="363.00" y="300" width="3.0" height="2" fill="#0a0a0a"/>
<rect x="368.00" y="278" width="1.0" height="26" fill="#0a0a0a"/>
<rect x="367.00" y="282" width="3.0" height="18" fill="#0a0a0a"/>
<rect x="368.00" y="283" width="1" height="16" fill="#fff"/>
<rect x="371.00" y="277" width="1.0" height="15" fill="#0a0a0a"/>
<rect x="370.00" y="282" width="3.0" height="1" fill="#0a0a0a"/>
<rect x="375.00" y="275" width="1.0" height="40" fill="#0a0a0a"/>
<rect x="374.00" y="283" width="3.0" height="25" fill="#0a0a0a"/>
<rect x="375.00" y="284" width="1" height="23" fill="#666"/>
<rect x="379.00" y="304" width="1.0" height="18" fill="#0a0a0a"/>
<rect x="378.00" y="308" width="3.0" height="8" fill="#0a0a0a"/>
<rect x="379.00" y="309" width="1" height="6" fill="#666"/>
<rect x="382.00" y="310" width="1.0" height="7" fill="#0a0a0a"/>
<rect x="381.00" y="313" width="3.0" height="3" fill="#0a0a0a"/>
<rect x="382.00" y="314" width="1" height="1" fill="#fff"/>
<rect x="386.00" y="305" width="1.0" height="46" fill="#0a0a0a"/>
<rect x="385.00" y="313" width="3.0" height="25" fill="#0a0a0a"/>
<rect x="386.00" y="314" width="1" height="23" fill="#666"/>
<rect x="390.00" y="326" width="1.0" height="15" fill="#0a0a0a"/>
<rect x="389.00" y="329" width="3.0" height="9" fill="#0a0a0a"/>
<rect x="390.00" y="330" width="1" height="7" fill="#fff"/>
<rect x="393.00" y="292" width="1.0" height="42" fill="#0a0a0a"/>
<rect x="392.00" y="300" width="3.0" height="29" fill="#0a0a0a"/>
<rect x="393.00" y="301" width="1" height="27" fill="#fff"/>
<rect x="397.00" y="282" width="1.0" height="25" fill="#0a0a0a"/>
<rect x="396.00" y="298" width="3.0" height="2" fill="#0a0a0a"/>
<rect x="400.00" y="296" width="1.0" height="18" fill="#0a0a0a"/>
<rect x="399.00" y="298" width="3.0" height="8" fill="#0a0a0a"/>
<rect x="400.00" y="299" width="1" height="6" fill="#666"/>
<rect x="404.00" y="303" width="1.0" height="19" fill="#0a0a0a"/>
<rect x="403.00" y="306" width="3.0" height="9" fill="#0a0a0a"/>
<rect x="404.00" y="307" width="1" height="7" fill="#666"/>
<rect x="408.00" y="308" width="1.0" height="37" fill="#0a0a0a"/>
<rect x="407.00" y="315" width="3.0" height="25" fill="#0a0a0a"/>
<rect x="408.00" y="316" width="1" height="23" fill="#666"/>
<rect x="411.00" y="334" width="1.0" height="33" fill="#0a0a0a"/>
<rect x="410.00" y="339" width="3.0" height="5" fill="#0a0a0a"/>
<rect x="411.00" y="340" width="1" height="3" fill="#fff"/>
<rect x="415.00" y="314" width="1.0" height="35" fill="#0a0a0a"/>
<rect x="414.00" y="316" width="3.0" height="28" fill="#0a0a0a"/>
<rect x="415.00" y="317" width="1" height="26" fill="#fff"/>
<rect x="418.00" y="313" width="1.0" height="39" fill="#0a0a0a"/>
<rect x="417.00" y="316" width="3.0" height="36" fill="#0a0a0a"/>
<rect x="418.00" y="317" width="1" height="34" fill="#666"/>
<rect x="422.00" y="347" width="1.0" height="27" fill="#0a0a0a"/>
<rect x="421.00" y="352" width="3.0" height="21" fill="#0a0a0a"/>
<rect x="422.00" y="353" width="1" height="19" fill="#666"/>
<rect x="426.00" y="349" width="1.0" height="25" fill="#0a0a0a"/>
<rect x="425.00" y="359" width="3.0" height="14" fill="#0a0a0a"/>
<rect x="426.00" y="360" width="1" height="12" fill="#fff"/>
<rect x="429.00" y="324" width="1.0" height="38" fill="#0a0a0a"/>
<rect x="428.00" y="330" width="3.0" height="29" fill="#0a0a0a"/>
<rect x="429.00" y="331" width="1" height="27" fill="#fff"/>
<rect x="433.00" y="326" width="1.0" height="24" fill="#0a0a0a"/>
<rect x="432.00" y="330" width="3.0" height="1" fill="#0a0a0a"/>
<rect x="437.00" y="307" width="1.0" height="25" fill="#0a0a0a"/>
<rect x="436.00" y="313" width="3.0" height="17" fill="#0a0a0a"/>
<rect x="437.00" y="314" width="1" height="15" fill="#fff"/>
<rect x="440.00" y="309" width="1.0" height="15" fill="#0a0a0a"/>
<rect x="439.00" y="313" width="3.0" height="9" fill="#0a0a0a"/>
<rect x="440.00" y="314" width="1" height="7" fill="#666"/>
<rect x="444.00" y="291" width="1.0" height="41" fill="#0a0a0a"/>
<rect x="443.00" y="299" width="3.0" height="23" fill="#0a0a0a"/>
<rect x="444.00" y="300" width="1" height="21" fill="#fff"/>
<rect x="447.00" y="297" width="1.0" height="42" fill="#0a0a0a"/>
<rect x="446.00" y="299" width="3.0" height="29" fill="#0a0a0a"/>
<rect x="447.00" y="300" width="1" height="27" fill="#666"/>
<rect x="451.00" y="317" width="1.0" height="25" fill="#0a0a0a"/>
<rect x="450.00" y="326" width="3.0" height="3" fill="#0a0a0a"/>
<rect x="451.00" y="327" width="1" height="1" fill="#fff"/>
<rect x="455.00" y="322" width="1.0" height="20" fill="#0a0a0a"/>
<rect x="454.00" y="326" width="3.0" height="14" fill="#0a0a0a"/>
<rect x="455.00" y="327" width="1" height="12" fill="#666"/>
<rect x="458.00" y="334" width="1.0" height="30" fill="#0a0a0a"/>
<rect x="457.00" y="340" width="3.0" height="23" fill="#0a0a0a"/>
<rect x="458.00" y="341" width="1" height="21" fill="#666"/>
<rect x="462.00" y="339" width="1.0" height="30" fill="#0a0a0a"/>
<rect x="461.00" y="354" width="3.0" height="11" fill="#0a0a0a"/>
<rect x="462.00" y="355" width="1" height="9" fill="#fff"/>
<rect x="466.00" y="353" width="1.0" height="53" fill="#0a0a0a"/>
<rect x="465.00" y="354" width="3.0" height="14" fill="#0a0a0a"/>
<rect x="466.00" y="355" width="1" height="12" fill="#666"/>
<rect x="469.00" y="355" width="1.0" height="28" fill="#0a0a0a"/>
<rect x="468.00" y="366" width="3.0" height="4" fill="#0a0a0a"/>
<rect x="469.00" y="367" width="1" height="2" fill="#fff"/>
<rect x="473.00" y="362" width="1.0" height="34" fill="#0a0a0a"/>
<rect x="472.00" y="366" width="3.0" height="28" fill="#0a0a0a"/>
<rect x="473.00" y="367" width="1" height="26" fill="#666"/>
<rect x="476.00" y="389" width="1.0" height="33" fill="#0a0a0a"/>
<rect x="475.00" y="394" width="3.0" height="26" fill="#0a0a0a"/>
<rect x="476.00" y="395" width="1" height="24" fill="#666"/>
<rect x="480.00" y="405" width="1.0" height="40" fill="#0a0a0a"/>
<rect x="479.00" y="420" width="3.0" height="17" fill="#0a0a0a"/>
<rect x="480.00" y="421" width="1" height="15" fill="#666"/>
<rect x="484.00" y="416" width="1.0" height="34" fill="#0a0a0a"/>
<rect x="483.00" y="432" width="3.0" height="5" fill="#0a0a0a"/>
<rect x="484.00" y="433" width="1" height="3" fill="#fff"/>
<rect x="487.00" y="402" width="1.0" height="36" fill="#0a0a0a"/>
<rect x="486.00" y="407" width="3.0" height="25" fill="#0a0a0a"/>
<rect x="487.00" y="408" width="1" height="23" fill="#fff"/>
<rect x="491.00" y="349" width="1.0" height="59" fill="#0a0a0a"/>
<rect x="490.00" y="362" width="3.0" height="45" fill="#0a0a0a"/>
<rect x="491.00" y="363" width="1" height="43" fill="#fff"/>
<rect x="495.00" y="345" width="1.0" height="40" fill="#0a0a0a"/>
<rect x="494.00" y="362" width="3.0" height="10" fill="#0a0a0a"/>
<rect x="495.00" y="363" width="1" height="8" fill="#666"/>
<rect x="498.00" y="363" width="1.0" height="15" fill="#0a0a0a"/>
<rect x="497.00" y="372" width="3.0" height="1" fill="#0a0a0a"/>
<rect x="502.00" y="371" width="1.0" height="24" fill="#0a0a0a"/>
<rect x="501.00" y="372" width="3.0" height="21" fill="#0a0a0a"/>
<rect x="502.00" y="373" width="1" height="19" fill="#666"/>
<rect x="505.00" y="383" width="1.0" height="14" fill="#0a0a0a"/>
<rect x="504.00" y="390" width="3.0" height="3" fill="#0a0a0a"/>
<rect x="505.00" y="391" width="1" height="1" fill="#fff"/>
<rect x="509.00" y="384" width="1.0" height="26" fill="#0a0a0a"/>
<rect x="508.00" y="390" width="3.0" height="18" fill="#0a0a0a"/>
<rect x="509.00" y="391" width="1" height="16" fill="#666"/>
<rect x="513.00" y="408" width="1.0" height="29" fill="#0a0a0a"/>
<rect x="512.00" y="408" width="3.0" height="15" fill="#0a0a0a"/>
<rect x="513.00" y="409" width="1" height="13" fill="#666"/>
<rect x="516.00" y="401" width="1.0" height="45" fill="#0a0a0a"/>
<rect x="515.00" y="423" width="3.0" height="19" fill="#0a0a0a"/>
<rect x="516.00" y="424" width="1" height="17" fill="#666"/>
<rect x="520.00" y="419" width="1.0" height="23" fill="#0a0a0a"/>
<rect x="519.00" y="433" width="3.0" height="9" fill="#0a0a0a"/>
<rect x="520.00" y="434" width="1" height="7" fill="#fff"/>
<rect x="523.00" y="418" width="1.0" height="23" fill="#0a0a0a"/>
<rect x="522.00" y="431" width="3.0" height="2" fill="#0a0a0a"/>
<rect x="527.00" y="422" width="1.0" height="20" fill="#0a0a0a"/>
<rect x="526.00" y="431" width="3.0" height="8" fill="#0a0a0a"/>
<rect x="527.00" y="432" width="1" height="6" fill="#666"/>
<rect x="531.00" y="420" width="1.0" height="29" fill="#0a0a0a"/>
<rect x="530.00" y="439" width="3.0" height="9" fill="#0a0a0a"/>
<rect x="531.00" y="440" width="1" height="7" fill="#666"/>
<rect x="534.00" y="421" width="1.0" height="45" fill="#0a0a0a"/>
<rect x="533.00" y="439" width="3.0" height="9" fill="#0a0a0a"/>
<rect x="534.00" y="440" width="1" height="7" fill="#fff"/>
<rect x="538.00" y="397" width="1.0" height="48" fill="#0a0a0a"/>
<rect x="537.00" y="431" width="3.0" height="8" fill="#0a0a0a"/>
<rect x="538.00" y="432" width="1" height="6" fill="#fff"/>
<rect x="542.00" y="383" width="1.0" height="68" fill="#0a0a0a"/>
<rect x="541.00" y="384" width="3.0" height="47" fill="#0a0a0a"/>
<rect x="542.00" y="385" width="1" height="45" fill="#fff"/>
<rect x="545.00" y="354" width="1.0" height="36" fill="#0a0a0a"/>
<rect x="544.00" y="356" width="3.0" height="28" fill="#0a0a0a"/>
<rect x="545.00" y="357" width="1" height="26" fill="#fff"/>
<rect x="549.00" y="345" width="1.0" height="39" fill="#0a0a0a"/>
<rect x="548.00" y="356" width="3.0" height="20" fill="#0a0a0a"/>
<rect x="549.00" y="357" width="1" height="18" fill="#666"/>
<rect x="552.00" y="354" width="1.0" height="27" fill="#0a0a0a"/>
<rect x="551.00" y="362" width="3.0" height="14" fill="#0a0a0a"/>
<rect x="552.00" y="363" width="1" height="12" fill="#fff"/>
<rect x="556.00" y="360" width="1.0" height="29" fill="#0a0a0a"/>
<rect x="555.00" y="362" width="3.0" height="17" fill="#0a0a0a"/>
<rect x="556.00" y="363" width="1" height="15" fill="#666"/>
<rect x="560.00" y="335" width="1.0" height="52" fill="#0a0a0a"/>
<rect x="559.00" y="346" width="3.0" height="33" fill="#0a0a0a"/>
<rect x="560.00" y="347" width="1" height="31" fill="#fff"/>
<rect x="563.00" y="323" width="1.0" height="24" fill="#0a0a0a"/>
<rect x="562.00" y="342" width="3.0" height="4" fill="#0a0a0a"/>
<rect x="563.00" y="343" width="1" height="2" fill="#fff"/>
<rect x="567.00" y="339" width="1.0" height="28" fill="#0a0a0a"/>
<rect x="566.00" y="342" width="3.0" height="20" fill="#0a0a0a"/>
<rect x="567.00" y="343" width="1" height="18" fill="#666"/>
<rect x="571.00" y="324" width="1.0" height="38" fill="#0a0a0a"/>
<rect x="570.00" y="338" width="3.0" height="24" fill="#0a0a0a"/>
<rect x="571.00" y="339" width="1" height="22" fill="#fff"/>
<rect x="574.00" y="310" width="1.0" height="28" fill="#0a0a0a"/>
<rect x="573.00" y="313" width="3.0" height="25" fill="#0a0a0a"/>
<rect x="574.00" y="314" width="1" height="23" fill="#fff"/>
<rect x="578.00" y="289" width="1.0" height="26" fill="#0a0a0a"/>
<rect x="577.00" y="306" width="3.0" height="7" fill="#0a0a0a"/>
<rect x="578.00" y="307" width="1" height="5" fill="#fff"/>
<rect x="581.00" y="295" width="1.0" height="34" fill="#0a0a0a"/>
<rect x="580.00" y="306" width="3.0" height="20" fill="#0a0a0a"/>
<rect x="581.00" y="307" width="1" height="18" fill="#666"/>
<rect x="585.00" y="324" width="1.0" height="30" fill="#0a0a0a"/>
<rect x="584.00" y="326" width="3.0" height="15" fill="#0a0a0a"/>
<rect x="585.00" y="327" width="1" height="13" fill="#666"/>
<rect x="589.00" y="328" width="1.0" height="26" fill="#0a0a0a"/>
<rect x="588.00" y="338" width="3.0" height="3" fill="#0a0a0a"/>
<rect x="589.00" y="339" width="1" height="1" fill="#fff"/>
<rect x="592.00" y="315" width="1.0" height="26" fill="#0a0a0a"/>
<rect x="591.00" y="317" width="3.0" height="21" fill="#0a0a0a"/>
<rect x="592.00" y="318" width="1" height="19" fill="#fff"/>
<rect x="596.00" y="311" width="1.0" height="26" fill="#0a0a0a"/>
<rect x="595.00" y="317" width="3.0" height="19" fill="#0a0a0a"/>
<rect x="596.00" y="318" width="1" height="17" fill="#666"/>
<rect x="599.00" y="319" width="1.0" height="19" fill="#0a0a0a"/>
<rect x="598.00" y="335" width="3.0" height="2" fill="#0a0a0a"/>
<rect x="603.00" y="304" width="1.0" height="37" fill="#0a0a0a"/>
<rect x="602.00" y="311" width="3.0" height="24" fill="#0a0a0a"/>
<rect x="603.00" y="312" width="1" height="22" fill="#fff"/>
<rect x="607.00" y="308" width="1.0" height="21" fill="#0a0a0a"/>
<rect x="606.00" y="311" width="3.0" height="14" fill="#0a0a0a"/>
<rect x="607.00" y="312" width="1" height="12" fill="#666"/>
<rect x="610.00" y="322" width="1.0" height="26" fill="#0a0a0a"/>
<rect x="609.00" y="325" width="3.0" height="4" fill="#0a0a0a"/>
<rect x="610.00" y="326" width="1" height="2" fill="#fff"/>
<rect x="614.00" y="323" width="1.0" height="30" fill="#0a0a0a"/>
<rect x="613.00" y="327" width="3.0" height="15" fill="#0a0a0a"/>
<rect x="614.00" y="328" width="1" height="13" fill="#666"/>
<rect x="618.00" y="289" width="1.0" height="62" fill="#0a0a0a"/>
<rect x="617.00" y="342" width="3.0" height="8" fill="#0a0a0a"/>
<rect x="618.00" y="343" width="1" height="6" fill="#666"/>
<rect x="621.00" y="310" width="1.0" height="55" fill="#0a0a0a"/>
<rect x="620.00" y="344" width="3.0" height="6" fill="#0a0a0a"/>
<rect x="621.00" y="345" width="1" height="4" fill="#fff"/>
<rect x="625.00" y="330" width="1.0" height="56" fill="#0a0a0a"/>
<rect x="624.00" y="344" width="3.0" height="4" fill="#0a0a0a"/>
<rect x="625.00" y="345" width="1" height="2" fill="#666"/>
<rect x="628.00" y="323" width="1.0" height="77" fill="#0a0a0a"/>
<rect x="627.00" y="347" width="3.0" height="29" fill="#0a0a0a"/>
<rect x="628.00" y="348" width="1" height="27" fill="#fff"/>
<rect x="632.00" y="327" width="1.0" height="40" fill="#0a0a0a"/>
<rect x="631.00" y="347" width="3.0" height="15" fill="#0a0a0a"/>
<rect x="632.00" y="348" width="1" height="13" fill="#666"/>
<rect x="636.00" y="326" width="1.0" height="51" fill="#0a0a0a"/>
<rect x="635.00" y="342" width="3.0" height="20" fill="#0a0a0a"/>
<rect x="636.00" y="343" width="1" height="18" fill="#fff"/>
<rect x="639.00" y="319" width="1.0" height="32" fill="#0a0a0a"/>
<rect x="638.00" y="335" width="3.0" height="7" fill="#0a0a0a"/>
<rect x="639.00" y="336" width="1" height="5" fill="#fff"/>
<rect x="643.00" y="309" width="1.0" height="33" fill="#0a0a0a"/>
<rect x="642.00" y="310" width="3.0" height="25" fill="#0a0a0a"/>
<rect x="643.00" y="311" width="1" height="23" fill="#fff"/>
<rect x="647.00" y="306" width="1.0" height="22" fill="#0a0a0a"/>
<rect x="646.00" y="310" width="3.0" height="15" fill="#0a0a0a"/>
<rect x="647.00" y="311" width="1" height="13" fill="#666"/>
<rect x="650.00" y="314" width="1.0" height="29" fill="#0a0a0a"/>
<rect x="649.00" y="325" width="3.0" height="16" fill="#0a0a0a"/>
<rect x="650.00" y="326" width="1" height="14" fill="#666"/>
<rect x="654.00" y="324" width="1.0" height="18" fill="#0a0a0a"/>
<rect x="653.00" y="341" width="3.0" height="1" fill="#0a0a0a"/>
<rect x="657.00" y="318" width="1.0" height="26" fill="#0a0a0a"/>
<rect x="656.00" y="333" width="3.0" height="7" fill="#0a0a0a"/>
<rect x="657.00" y="334" width="1" height="5" fill="#fff"/>
<rect x="661.00" y="327" width="1.0" height="8" fill="#0a0a0a"/>
<rect x="660.00" y="330" width="3.0" height="3" fill="#0a0a0a"/>
<rect x="661.00" y="331" width="1" height="1" fill="#fff"/>
<rect x="665.00" y="318" width="1.0" height="20" fill="#0a0a0a"/>
<rect x="664.00" y="329" width="3.0" height="2" fill="#0a0a0a"/>
<rect x="668.00" y="324" width="1.0" height="25" fill="#0a0a0a"/>
<rect x="667.00" y="329" width="3.0" height="1" fill="#0a0a0a"/>
<rect x="672.00" y="321" width="1.0" height="25" fill="#0a0a0a"/>
<rect x="671.00" y="330" width="3.0" height="1" fill="#0a0a0a"/>
<rect x="675.00" y="320" width="1.0" height="13" fill="#0a0a0a"/>
<rect x="674.00" y="323" width="3.0" height="7" fill="#0a0a0a"/>
<rect x="675.00" y="324" width="1" height="5" fill="#fff"/>
<rect x="679.00" y="297" width="1.0" height="31" fill="#0a0a0a"/>
<rect x="678.00" y="306" width="3.0" height="17" fill="#0a0a0a"/>
<rect x="679.00" y="307" width="1" height="15" fill="#fff"/>
<rect x="683.00" y="305" width="1.0" height="22" fill="#0a0a0a"/>
<rect x="682.00" y="306" width="3.0" height="21" fill="#0a0a0a"/>
<rect x="683.00" y="307" width="1" height="19" fill="#666"/>
<rect x="686.00" y="320" width="1.0" height="14" fill="#0a0a0a"/>
<rect x="685.00" y="327" width="3.0" height="6" fill="#0a0a0a"/>
<rect x="686.00" y="328" width="1" height="4" fill="#666"/>
<rect x="690.00" y="317" width="1.0" height="19" fill="#0a0a0a"/>
<rect x="689.00" y="332" width="3.0" height="1" fill="#0a0a0a"/>
<rect x="694.00" y="284" width="1.0" height="50" fill="#0a0a0a"/>
<rect x="693.00" y="292" width="3.0" height="40" fill="#0a0a0a"/>
<rect x="694.00" y="293" width="1" height="38" fill="#fff"/>
<rect x="697.00" y="280" width="1.0" height="22" fill="#0a0a0a"/>
<rect x="696.00" y="292" width="3.0" height="5" fill="#0a0a0a"/>
<rect x="697.00" y="293" width="1" height="3" fill="#666"/>
<rect x="701.00" y="295" width="1.0" height="25" fill="#0a0a0a"/>
<rect x="700.00" y="303" width="3.0" height="16" fill="#0a0a0a"/>
<rect x="701.00" y="304" width="1" height="14" fill="#666"/>
<rect x="704.00" y="312" width="1.0" height="26" fill="#0a0a0a"/>
<rect x="703.00" y="319" width="3.0" height="13" fill="#0a0a0a"/>
<rect x="704.00" y="320" width="1" height="11" fill="#666"/>
<rect x="708.00" y="311" width="1.0" height="21" fill="#0a0a0a"/>
<rect x="707.00" y="319" width="3.0" height="13" fill="#0a0a0a"/>
<rect x="708.00" y="320" width="1" height="11" fill="#fff"/>
<rect x="712.00" y="294" width="1.0" height="26" fill="#0a0a0a"/>
<rect x="711.00" y="297" width="3.0" height="22" fill="#0a0a0a"/>
<rect x="712.00" y="298" width="1" height="20" fill="#fff"/>
<rect x="715.00" y="294" width="1.0" height="14" fill="#0a0a0a"/>
<rect x="714.00" y="297" width="3.0" height="5" fill="#0a0a0a"/>
<rect x="715.00" y="298" width="1" height="3" fill="#666"/>
<rect x="719.00" y="275" width="1.0" height="28" fill="#0a0a0a"/>
<rect x="718.00" y="284" width="3.0" height="18" fill="#0a0a0a"/>
<rect x="719.00" y="285" width="1" height="16" fill="#fff"/>
<rect x="723.00" y="270" width="1.0" height="20" fill="#0a0a0a"/>
<rect x="722.00" y="274" width="3.0" height="10" fill="#0a0a0a"/>
<rect x="723.00" y="275" width="1" height="8" fill="#fff"/>
<rect x="726.00" y="271" width="1.0" height="26" fill="#0a0a0a"/>
<rect x="725.00" y="274" width="3.0" height="22" fill="#0a0a0a"/>
<rect x="726.00" y="275" width="1" height="20" fill="#666"/>
<rect x="730.00" y="291" width="1.0" height="24" fill="#0a0a0a"/>
<rect x="729.00" y="296" width="3.0" height="18" fill="#0a0a0a"/>
<rect x="730.00" y="297" width="1" height="16" fill="#666"/>
<rect x="733.00" y="309" width="1.0" height="12" fill="#0a0a0a"/>
<rect x="732.00" y="314" width="3.0" height="6" fill="#0a0a0a"/>
<rect x="733.00" y="315" width="1" height="4" fill="#666"/>
<rect x="737.00" y="304" width="1.0" height="23" fill="#0a0a0a"/>
<rect x="736.00" y="315" width="3.0" height="7" fill="#0a0a0a"/>
<rect x="737.00" y="316" width="1" height="5" fill="#fff"/>
<rect x="741.00" y="306" width="1.0" height="16" fill="#0a0a0a"/>
<rect x="740.00" y="313" width="3.0" height="2" fill="#0a0a0a"/>
<rect x="744.00" y="306" width="1.0" height="12" fill="#0a0a0a"/>
<rect x="743.00" y="313" width="3.0" height="4" fill="#0a0a0a"/>
<rect x="744.00" y="314" width="1" height="2" fill="#666"/>
<rect x="748.00" y="304" width="1.0" height="30" fill="#0a0a0a"/>
<rect x="747.00" y="317" width="3.0" height="4" fill="#0a0a0a"/>
<rect x="748.00" y="318" width="1" height="2" fill="#666"/>
<rect x="751.00" y="316" width="1.0" height="31" fill="#0a0a0a"/>
<rect x="750.00" y="321" width="3.0" height="10" fill="#0a0a0a"/>
<rect x="751.00" y="322" width="1" height="8" fill="#666"/>
<rect x="755.00" y="312" width="1.0" height="22" fill="#0a0a0a"/>
<rect x="754.00" y="320" width="3.0" height="13" fill="#0a0a0a"/>
<rect x="755.00" y="321" width="1" height="11" fill="#fff"/>
<rect x="759.00" y="294" width="1.0" height="34" fill="#0a0a0a"/>
<rect x="758.00" y="304" width="3.0" height="16" fill="#0a0a0a"/>
<rect x="759.00" y="305" width="1" height="14" fill="#fff"/>
<rect x="762.00" y="294" width="1.0" height="16" fill="#0a0a0a"/>
<rect x="761.00" y="302" width="3.0" height="2" fill="#0a0a0a"/>
<rect x="766.00" y="288" width="1.0" height="18" fill="#0a0a0a"/>
<rect x="765.00" y="297" width="3.0" height="5" fill="#0a0a0a"/>
<rect x="766.00" y="298" width="1" height="3" fill="#fff"/>
<rect x="770.00" y="294" width="1.0" height="21" fill="#0a0a0a"/>
<rect x="769.00" y="297" width="3.0" height="7" fill="#0a0a0a"/>
<rect x="770.00" y="298" width="1" height="5" fill="#666"/>
<rect x="773.00" y="299" width="1.0" height="15" fill="#0a0a0a"/>
<rect x="772.00" y="306" width="3.0" height="2" fill="#0a0a0a"/>
<rect x="777.00" y="294" width="1.0" height="21" fill="#0a0a0a"/>
<rect x="776.00" y="297" width="3.0" height="11" fill="#0a0a0a"/>
<rect x="777.00" y="298" width="1" height="9" fill="#fff"/>
<rect x="780.00" y="288" width="1.0" height="25" fill="#0a0a0a"/>
<rect x="779.00" y="297" width="3.0" height="15" fill="#0a0a0a"/>
<rect x="780.00" y="298" width="1" height="13" fill="#666"/>
<rect x="784.00" y="280" width="1.0" height="33" fill="#0a0a0a"/>
<rect x="783.00" y="290" width="3.0" height="22" fill="#0a0a0a"/>
<rect x="784.00" y="291" width="1" height="20" fill="#fff"/>
<rect x="788.00" y="268" width="1.0" height="22" fill="#0a0a0a"/>
<rect x="787.00" y="274" width="3.0" height="16" fill="#0a0a0a"/>
<rect x="788.00" y="275" width="1" height="14" fill="#fff"/>
<rect x="791.00" y="270" width="1.0" height="12" fill="#0a0a0a"/>
<rect x="790.00" y="271" width="3.0" height="3" fill="#0a0a0a"/>
<rect x="791.00" y="272" width="1" height="1" fill="#fff"/>
<rect x="795.00" y="262" width="1.0" height="18" fill="#0a0a0a"/>
<rect x="794.00" y="264" width="3.0" height="7" fill="#0a0a0a"/>
<rect x="795.00" y="265" width="1" height="5" fill="#fff"/>
<rect x="799.00" y="248" width="1.0" height="18" fill="#0a0a0a"/>
<rect x="798.00" y="255" width="3.0" height="9" fill="#0a0a0a"/>
<rect x="799.00" y="256" width="1" height="7" fill="#fff"/>
<rect x="802.00" y="241" width="1.0" height="23" fill="#0a0a0a"/>
<rect x="801.00" y="250" width="3.0" height="5" fill="#0a0a0a"/>
<rect x="802.00" y="251" width="1" height="3" fill="#fff"/>
<rect x="806.00" y="244" width="1.0" height="31" fill="#0a0a0a"/>
<rect x="805.00" y="248" width="3.0" height="2" fill="#0a0a0a"/>
<rect x="809.00" y="227" width="1.0" height="31" fill="#0a0a0a"/>
<rect x="808.00" y="231" width="3.0" height="27" fill="#0a0a0a"/>
<rect x="809.00" y="232" width="1" height="25" fill="#fff"/>
<rect x="813.00" y="224" width="1.0" height="18" fill="#0a0a0a"/>
<rect x="812.00" y="231" width="3.0" height="10" fill="#0a0a0a"/>
<rect x="813.00" y="232" width="1" height="8" fill="#666"/>
<rect x="817.00" y="236" width="1.0" height="12" fill="#0a0a0a"/>
<rect x="816.00" y="241" width="3.0" height="5" fill="#0a0a0a"/>
<rect x="817.00" y="242" width="1" height="3" fill="#666"/>
<rect x="820.00" y="230" width="1.0" height="24" fill="#0a0a0a"/>
<rect x="819.00" y="233" width="3.0" height="13" fill="#0a0a0a"/>
<rect x="820.00" y="234" width="1" height="11" fill="#fff"/>
<rect x="824.00" y="210" width="1.0" height="24" fill="#0a0a0a"/>
<rect x="823.00" y="211" width="3.0" height="22" fill="#0a0a0a"/>
<rect x="824.00" y="212" width="1" height="20" fill="#fff"/>
<rect x="828.00" y="185" width="1.0" height="41" fill="#0a0a0a"/>
<rect x="827.00" y="196" width="3.0" height="15" fill="#0a0a0a"/>
<rect x="828.00" y="197" width="1" height="13" fill="#fff"/>
<rect x="831.00" y="193" width="1.0" height="25" fill="#0a0a0a"/>
<rect x="830.00" y="196" width="3.0" height="20" fill="#0a0a0a"/>
<rect x="831.00" y="197" width="1" height="18" fill="#666"/>
<rect x="835.00" y="192" width="1.0" height="24" fill="#0a0a0a"/>
<rect x="834.00" y="195" width="3.0" height="21" fill="#0a0a0a"/>
<rect x="835.00" y="196" width="1" height="19" fill="#fff"/>
<rect x="838.00" y="192" width="1.0" height="13" fill="#0a0a0a"/>
<rect x="837.00" y="195" width="3.0" height="7" fill="#0a0a0a"/>
<rect x="838.00" y="196" width="1" height="5" fill="#666"/>
<rect x="842.00" y="183" width="1.0" height="21" fill="#0a0a0a"/>
<rect x="841.00" y="190" width="3.0" height="12" fill="#0a0a0a"/>
<rect x="842.00" y="191" width="1" height="10" fill="#fff"/>
<rect x="846.00" y="182" width="1.0" height="22" fill="#0a0a0a"/>
<rect x="845.00" y="187" width="3.0" height="3" fill="#0a0a0a"/>
<rect x="846.00" y="188" width="1" height="1" fill="#fff"/>
<rect x="849.00" y="185" width="1.0" height="23" fill="#0a0a0a"/>
<rect x="848.00" y="187" width="3.0" height="7" fill="#0a0a0a"/>
<rect x="849.00" y="188" width="1" height="5" fill="#666"/>
<rect x="853.00" y="183" width="1.0" height="15" fill="#0a0a0a"/>
<rect x="852.00" y="192" width="3.0" height="2" fill="#0a0a0a"/>
<rect x="856.00" y="168" width="1.0" height="24" fill="#0a0a0a"/>
<rect x="855.00" y="173" width="3.0" height="19" fill="#0a0a0a"/>
<rect x="856.00" y="174" width="1" height="17" fill="#fff"/>
<rect x="860.00" y="172" width="1.0" height="9" fill="#0a0a0a"/>
<rect x="859.00" y="173" width="3.0" height="3" fill="#0a0a0a"/>
<rect x="860.00" y="174" width="1" height="1" fill="#666"/>
<rect x="864.00" y="155" width="1.0" height="27" fill="#0a0a0a"/>
<rect x="863.00" y="163" width="3.0" height="15" fill="#0a0a0a"/>
<rect x="864.00" y="164" width="1" height="13" fill="#fff"/>
<rect x="867.00" y="142" width="1.0" height="21" fill="#0a0a0a"/>
<rect x="866.00" y="146" width="3.0" height="17" fill="#0a0a0a"/>
<rect x="867.00" y="147" width="1" height="15" fill="#fff"/>
<rect x="871.00" y="137" width="1.0" height="15" fill="#0a0a0a"/>
<rect x="870.00" y="146" width="3.0" height="5" fill="#0a0a0a"/>
<rect x="871.00" y="147" width="1" height="3" fill="#666"/>
<rect x="875.00" y="145" width="1.0" height="17" fill="#0a0a0a"/>
<rect x="874.00" y="151" width="3.0" height="9" fill="#0a0a0a"/>
<rect x="875.00" y="152" width="1" height="7" fill="#666"/>
<rect x="878.00" y="134" width="1.0" height="30" fill="#0a0a0a"/>
<rect x="877.00" y="136" width="3.0" height="24" fill="#0a0a0a"/>
<rect x="878.00" y="137" width="1" height="22" fill="#fff"/>
<rect x="882.00" y="133" width="1.0" height="14" fill="#0a0a0a"/>
<rect x="881.00" y="136" width="3.0" height="1" fill="#0a0a0a"/>
<rect x="885.00" y="122" width="1.0" height="15" fill="#0a0a0a"/>
<rect x="884.00" y="130" width="3.0" height="6" fill="#0a0a0a"/>
<rect x="885.00" y="131" width="1" height="4" fill="#fff"/>
<rect x="889.00" y="118" width="1.0" height="26" fill="#0a0a0a"/>
<rect x="888.00" y="130" width="3.0" height="12" fill="#0a0a0a"/>
<rect x="889.00" y="131" width="1" height="10" fill="#666"/>
<rect x="893.00" y="130" width="1.0" height="13" fill="#0a0a0a"/>
<rect x="892.00" y="138" width="3.0" height="4" fill="#0a0a0a"/>
<rect x="893.00" y="139" width="1" height="2" fill="#fff"/>
<rect x="896.00" y="121" width="1.0" height="17" fill="#0a0a0a"/>
<rect x="895.00" y="123" width="3.0" height="15" fill="#0a0a0a"/>
<rect x="896.00" y="124" width="1" height="13" fill="#fff"/>
<rect x="900.00" y="126" width="1.0" height="17" fill="#0a0a0a"/>
<rect x="899.00" y="127" width="3.0" height="13" fill="#0a0a0a"/>
<rect x="900.00" y="128" width="1" height="11" fill="#666"/>
<rect x="904.00" y="124" width="1.0" height="30" fill="#0a0a0a"/>
<rect x="903.00" y="138" width="3.0" height="1" fill="#0a0a0a"/>
<rect x="907.00" y="129" width="1.0" height="25" fill="#0a0a0a"/>
<rect x="906.00" y="135" width="3.0" height="3" fill="#0a0a0a"/>
<rect x="907.00" y="136" width="1" height="1" fill="#fff"/>
<rect x="911.00" y="124" width="1.0" height="23" fill="#0a0a0a"/>
<rect x="910.00" y="127" width="3.0" height="8" fill="#0a0a0a"/>
<rect x="911.00" y="128" width="1" height="6" fill="#fff"/>
<rect x="914.00" y="112" width="1.0" height="20" fill="#0a0a0a"/>
<rect x="913.00" y="116" width="3.0" height="11" fill="#0a0a0a"/>
<rect x="914.00" y="117" width="1" height="9" fill="#fff"/>
<rect x="918.00" y="106" width="1.0" height="34" fill="#0a0a0a"/>
<rect x="917.00" y="116" width="3.0" height="24" fill="#0a0a0a"/>
<rect x="918.00" y="117" width="1" height="22" fill="#666"/>
<rect x="922.00" y="136" width="1.0" height="24" fill="#0a0a0a"/>
<rect x="921.00" y="140" width="3.0" height="13" fill="#0a0a0a"/>
<rect x="922.00" y="141" width="1" height="11" fill="#666"/>
<rect x="925.00" y="150" width="1.0" height="21" fill="#0a0a0a"/>
<rect x="924.00" y="153" width="3.0" height="17" fill="#0a0a0a"/>
<rect x="925.00" y="154" width="1" height="15" fill="#666"/>
<rect x="929.00" y="136" width="1.0" height="49" fill="#0a0a0a"/>
<rect x="928.00" y="141" width="3.0" height="29" fill="#0a0a0a"/>
<rect x="929.00" y="142" width="1" height="27" fill="#fff"/>
<rect x="932.00" y="135" width="1.0" height="39" fill="#0a0a0a"/>
<rect x="931.00" y="141" width="3.0" height="23" fill="#0a0a0a"/>
<rect x="932.00" y="142" width="1" height="21" fill="#666"/>
<rect x="936.00" y="158" width="1.0" height="23" fill="#0a0a0a"/>
<rect x="935.00" y="164" width="3.0" height="14" fill="#0a0a0a"/>
<rect x="936.00" y="165" width="1" height="12" fill="#666"/>
<rect x="940.00" y="162" width="1.0" height="21" fill="#0a0a0a"/>
<rect x="939.00" y="165" width="3.0" height="13" fill="#0a0a0a"/>
<rect x="940.00" y="166" width="1" height="11" fill="#fff"/>
<rect x="943.00" y="142" width="1.0" height="26" fill="#0a0a0a"/>
<rect x="942.00" y="146" width="3.0" height="19" fill="#0a0a0a"/>
<rect x="943.00" y="147" width="1" height="17" fill="#fff"/>
<rect x="947.00" y="139" width="1.0" height="15" fill="#0a0a0a"/>
<rect x="946.00" y="146" width="3.0" height="6" fill="#0a0a0a"/>
<rect x="947.00" y="147" width="1" height="4" fill="#666"/>
<rect x="951.00" y="135" width="1.0" height="19" fill="#0a0a0a"/>
<rect x="950.00" y="142" width="3.0" height="10" fill="#0a0a0a"/>
<rect x="951.00" y="143" width="1" height="8" fill="#fff"/>
<rect x="954.00" y="138" width="1.0" height="12" fill="#0a0a0a"/>
<rect x="953.00" y="141" width="3.0" height="1" fill="#0a0a0a"/>
<rect x="958.00" y="126" width="1.0" height="15" fill="#0a0a0a"/>
<rect x="957.00" y="132" width="3.0" height="9" fill="#0a0a0a"/>
<rect x="958.00" y="133" width="1" height="7" fill="#fff"/>
<rect x="961.00" y="123" width="1.0" height="14" fill="#0a0a0a"/>
<rect x="960.00" y="132" width="3.0" height="3" fill="#0a0a0a"/>
<rect x="961.00" y="133" width="1" height="1" fill="#666"/>
<rect x="965.00" y="133" width="1.0" height="28" fill="#0a0a0a"/>
<rect x="964.00" y="135" width="3.0" height="6" fill="#0a0a0a"/>
<rect x="965.00" y="136" width="1" height="4" fill="#666"/>
<rect x="969.00" y="135" width="1.0" height="15" fill="#0a0a0a"/>
<rect x="968.00" y="137" width="3.0" height="4" fill="#0a0a0a"/>
<rect x="969.00" y="138" width="1" height="2" fill="#fff"/>
<rect x="972.00" y="129" width="1.0" height="13" fill="#0a0a0a"/>
<rect x="971.00" y="135" width="3.0" height="7" fill="#0a0a0a"/>
<rect x="972.00" y="136" width="1" height="5" fill="#fff"/>
<rect x="976.00" y="129" width="1.0" height="18" fill="#0a0a0a"/>
<rect x="975.00" y="135" width="3.0" height="10" fill="#0a0a0a"/>
<rect x="976.00" y="136" width="1" height="8" fill="#666"/>
<rect x="980.00" y="142" width="1.0" height="16" fill="#0a0a0a"/>
<rect x="979.00" y="145" width="3.0" height="5" fill="#0a0a0a"/>
<rect x="980.00" y="146" width="1" height="3" fill="#666"/>
<rect x="983.00" y="135" width="1.0" height="16" fill="#0a0a0a"/>
<rect x="982.00" y="140" width="3.0" height="10" fill="#0a0a0a"/>
<rect x="983.00" y="141" width="1" height="8" fill="#fff"/>
<rect x="987.00" y="129" width="1.0" height="15" fill="#0a0a0a"/>
<rect x="986.00" y="139" width="3.0" height="1" fill="#0a0a0a"/>
<rect x="990.00" y="129" width="1.0" height="22" fill="#0a0a0a"/>
<rect x="989.00" y="141" width="3.0" height="9" fill="#0a0a0a"/>
<rect x="990.00" y="142" width="1" height="7" fill="#666"/>
<rect x="994.00" y="140" width="1.0" height="14" fill="#0a0a0a"/>
<rect x="993.00" y="150" width="3.0" height="1" fill="#0a0a0a"/>
<rect x="998.00" y="144" width="1.0" height="12" fill="#0a0a0a"/>
<rect x="997.00" y="149" width="3.0" height="3" fill="#0a0a0a"/>
<rect x="998.00" y="150" width="1" height="1" fill="#fff"/>
<rect x="1001.00" y="146" width="1.0" height="12" fill="#0a0a0a"/>
<rect x="1000.00" y="149" width="3.0" height="3" fill="#0a0a0a"/>
<rect x="1001.00" y="150" width="1" height="1" fill="#fff"/>
<rect x="1005.00" y="142" width="1.0" height="14" fill="#0a0a0a"/>
<rect x="1004.00" y="145" width="3.0" height="6" fill="#0a0a0a"/>
<rect x="1005.00" y="146" width="1" height="4" fill="#fff"/>
<rect x="1008.00" y="132" width="1.0" height="13" fill="#0a0a0a"/>
<rect x="1007.00" y="136" width="3.0" height="8" fill="#0a0a0a"/>
<rect x="1008.00" y="137" width="1" height="6" fill="#fff"/>
<rect x="1012.00" y="115" width="1.0" height="22" fill="#0a0a0a"/>
<rect x="1011.00" y="129" width="3.0" height="7" fill="#0a0a0a"/>
<rect x="1012.00" y="130" width="1" height="5" fill="#fff"/>
<rect x="1016.00" y="117" width="1.0" height="15" fill="#0a0a0a"/>
<rect x="1015.00" y="129" width="3.0" height="2" fill="#0a0a0a"/>
<rect x="1019.00" y="119" width="1.0" height="14" fill="#0a0a0a"/>
<rect x="1018.00" y="126" width="3.0" height="3" fill="#0a0a0a"/>
<rect x="1019.00" y="127" width="1" height="1" fill="#fff"/>
<rect x="1023.00" y="118" width="1.0" height="15" fill="#0a0a0a"/>
<rect x="1022.00" y="126" width="3.0" height="3" fill="#0a0a0a"/>
<rect x="1023.00" y="127" width="1" height="1" fill="#666"/>
<rect x="1027.00" y="106" width="1.0" height="23" fill="#0a0a0a"/>
<rect x="1026.00" y="114" width="3.0" height="15" fill="#0a0a0a"/>
<rect x="1027.00" y="115" width="1" height="13" fill="#fff"/>
<rect x="1030.00" y="113" width="1.0" height="26" fill="#0a0a0a"/>
<rect x="1029.00" y="114" width="3.0" height="18" fill="#0a0a0a"/>
<rect x="1030.00" y="115" width="1" height="16" fill="#666"/>
<rect x="1034.00" y="125" width="1.0" height="11" fill="#0a0a0a"/>
<rect x="1033.00" y="132" width="3.0" height="2" fill="#0a0a0a"/>
<rect x="1037.00" y="122" width="1.0" height="13" fill="#0a0a0a"/>
<rect x="1036.00" y="130" width="3.0" height="5" fill="#0a0a0a"/>
<rect x="1037.00" y="131" width="1" height="3" fill="#fff"/>
<rect x="1041.00" y="115" width="1.0" height="15" fill="#0a0a0a"/>
<rect x="1040.00" y="118" width="3.0" height="12" fill="#0a0a0a"/>
<rect x="1041.00" y="119" width="1" height="10" fill="#fff"/>
<rect x="1045.00" y="115" width="1.0" height="10" fill="#0a0a0a"/>
<rect x="1044.00" y="117" width="3.0" height="1" fill="#0a0a0a"/>
<rect x="1048.00" y="107" width="1.0" height="16" fill="#0a0a0a"/>
<rect x="1047.00" y="109" width="3.0" height="8" fill="#0a0a0a"/>
<rect x="1048.00" y="110" width="1" height="6" fill="#fff"/>
<rect x="1052.00" y="107" width="1.0" height="3" fill="#0a0a0a"/>
<rect x="1051.00" y="107" width="3.0" height="3" fill="#0a0a0a"/>
<rect x="1052.00" y="108" width="1" height="1" fill="#fff"/>
</g>
<!-- RSI -->
<polyline points="9.8,562.3 13.4,520.5 17.1,506.2 20.7,495.3 24.3,488.8 27.9,570.4 31.5,589.5 35.2,634.0 38.8,591.5 42.4,537.7 46.0,610.5 49.6,626.6 53.3,640.7 56.9,651.6 60.5,641.2 64.1,517.0 67.7,495.8 71.4,614.3 75.0,639.1 78.6,633.5 82.2,653.9 85.8,632.9 89.5,652.3 93.1,654.6 96.7,584.4 100.3,640.8 103.9,577.9 107.5,511.5 111.2,522.3 114.8,499.6 118.4,490.9 122.0,575.5 125.6,547.1 129.3,514.8 132.9,500.9 136.5,628.5 140.1,577.3 143.7,609.4 147.4,524.0 151.0,519.8 154.6,501.5 158.2,562.6 161.8,551.3 165.5,521.2 169.1,605.0 172.7,548.1 176.3,526.7 179.9,614.9 183.6,616.4 187.2,577.7 190.8,606.7 194.4,519.8 198.0,513.1 201.7,489.1 205.3,524.9 208.9,520.6 212.5,492.8 216.1,492.2 219.8,488.4 223.4,601.5 227.0,576.9 230.6,608.3 234.2,560.6 237.9,536.3 241.5,629.2 245.1,656.5 248.7,643.2 252.3,567.1 256.0,570.0 259.6,524.6 263.2,644.6 266.8,560.7 270.4,566.2 274.1,563.4 277.7,650.8 281.3,655.1 284.9,588.9 288.5,636.8 292.1,650.1 295.8,617.6 299.4,650.5 303.0,658.1 306.6,655.8 310.2,542.3 313.9,519.9 317.5,565.2 321.1,513.7 324.7,504.6 328.3,501.5 332.0,584.4 335.6,502.8 339.2,497.1 342.8,589.1 346.4,624.5 350.1,516.6 353.7,516.3 357.3,509.6 360.9,506.2 364.5,502.1 368.2,489.1 371.8,495.2 375.4,632.7 379.0,643.8 382.6,606.0 386.3,650.2 389.9,594.2 393.5,518.6 397.1,516.2 400.7,574.2 404.4,618.4 408.0,652.0 411.6,637.3 415.2,530.1 418.8,622.2 422.5,640.8 426.1,583.8 429.7,524.6 433.3,524.2 436.9,502.0 440.6,561.1 444.2,511.2 447.8,608.2 451.4,598.0 455.0,632.0 458.7,652.5 462.3,598.7 465.9,631.9 469.5,615.7 473.1,653.5 476.7,659.8 480.4,661.6 484.0,627.9 487.6,531.0 491.2,499.3 494.8,538.0 498.5,541.0 502.1,622.3 505.7,601.7 509.3,643.1 512.9,653.9 516.6,659.6 520.2,601.3 523.8,582.5 527.4,624.7 531.0,646.6 534.7,562.0 538.3,525.7 541.9,492.3 545.5,489.1 549.1,562.0 552.8,534.2 556.4,595.0 560.0,523.9 563.6,519.1 567.2,603.1 570.9,535.0 574.5,508.4 578.1,502.7 581.7,595.5 585.3,626.2 589.0,609.4 592.6,523.1 596.2,601.0 599.8,595.8 603.4,515.9 607.1,583.0 610.7,583.0 614.3,639.1 617.9,649.1 621.5,590.6 625.2,615.6 628.8,588.4 632.4,648.9 636.0,539.0 639.6,521.7 643.3,496.8 646.9,573.5 650.5,617.0 654.1,618.7 657.7,554.0 661.3,534.8 665.0,528.1 668.6,546.1 672.2,574.5 675.8,499.2 679.4,488.6 683.1,603.9 686.7,620.6 690.3,613.5 693.9,502.0 697.5,528.3 701.2,613.3 704.8,633.6 708.4,568.0 712.0,517.1 715.6,550.7 719.3,510.5 722.9,501.3 726.5,605.1 730.1,635.8 733.7,642.2 737.4,600.3 741.0,571.9 744.6,615.0 748.2,636.7 751.8,655.2 755.5,554.0 759.1,508.8 762.7,505.7 766.3,498.1 769.9,587.0 773.6,603.1 777.2,525.2 780.8,623.7 784.4,529.4 788.0,508.3 791.7,505.2 795.3,497.1 798.9,491.2 802.5,489.2 806.1,488.5 809.8,486.5 813.4,573.0 817.0,599.9 820.6,528.8 824.2,499.0 827.9,492.7 831.5,587.9 835.1,533.1 838.7,566.6 842.3,528.3 845.9,519.2 849.6,590.2 853.2,562.0 856.8,502.6 860.4,537.0 864.0,504.3 867.7,493.1 871.3,540.5 874.9,597.8 878.5,516.3 882.1,520.7 885.8,506.2 889.4,605.0 893.0,566.4 896.6,511.5 900.2,604.3 903.9,586.7 907.5,565.0 911.1,517.9 914.7,497.9 918.3,618.7 922.0,638.9 925.6,652.5 929.2,545.1 932.8,605.1 936.4,626.6 940.1,568.8 943.7,523.6 947.3,556.7 950.9,524.6 954.5,519.0 958.2,499.0 961.8,551.5 965.4,610.2 969.0,559.2 972.6,537.9 976.3,630.5 979.9,646.0 983.5,543.4 987.1,542.0 990.7,630.1 994.4,624.7 998.0,631.3 1001.6,588.7 1005.2,512.9 1008.8,493.2 1012.4,489.3 1016.1,489.3 1019.7,487.6 1023.3,570.4 1026.9,501.2 1030.5,609.3 1034.2,607.5 1037.8,579.6 1041.4,512.2 1045.0,509.0 1048.6,494.3 1052.3,492.3" fill="none" stroke="#9dabd8" stroke-width="1.7" stroke-linejoin="round"/>
<polyline points="9.8,611.6 13.4,604.1 17.1,599.3 20.7,592.9 24.3,580.3 27.9,586.4 31.5,588.0 35.2,593.9 38.8,590.9 42.4,585.7 46.0,590.9 49.6,592.9 53.3,594.9 56.9,597.2 60.5,596.9 64.1,587.8 67.7,577.0 71.4,591.5 75.0,599.6 78.6,599.1 82.2,606.9 85.8,605.2 89.5,610.4 93.1,611.5 96.7,607.1 100.3,612.7 103.9,606.5 107.5,589.1 111.2,589.7 114.8,580.0 118.4,568.3 122.0,577.0 125.6,573.0 129.3,566.2 132.9,560.6 136.5,583.1 140.1,575.6 143.7,581.2 147.4,564.8 151.0,563.5 154.6,556.8 158.2,562.1 161.8,561.2 165.5,558.4 169.1,564.4 172.7,560.9 176.3,558.9 179.9,566.1 183.6,566.3 187.2,565.2 190.8,566.4 194.4,562.6 198.0,561.9 201.7,550.2 205.3,552.9 208.9,552.4 212.5,543.6 216.1,543.0 219.8,538.8 223.4,552.2 227.0,550.6 230.6,554.3 234.2,552.2 237.9,550.9 241.5,560.0 245.1,578.4 248.7,577.4 252.3,571.8 256.0,572.0 259.6,568.3 263.2,588.2 266.8,575.2 270.4,575.8 274.1,575.6 277.7,594.4 281.3,598.6 284.9,591.9 288.5,601.1 292.1,606.9 295.8,603.9 299.4,612.3 303.0,618.6 306.6,618.4 310.2,603.5 313.9,596.8 317.5,599.1 321.1,588.1 324.7,584.2 328.3,583.0 332.0,586.2 335.6,569.2 339.2,564.8 342.8,574.1 346.4,581.0 350.1,558.7 353.7,558.5 357.3,556.8 360.9,556.1 364.5,555.4 368.2,548.8 371.8,549.1 375.4,564.5 379.0,569.1 382.6,567.3 386.3,580.3 389.9,575.9 393.5,562.7 397.1,562.0 400.7,566.1 404.4,571.1 408.0,583.7 411.6,582.8 415.2,570.8 418.8,586.8 422.5,594.3 426.1,587.3 429.7,574.6 433.3,574.5 436.9,567.6 440.6,571.5 444.2,562.6 447.8,575.5 451.4,574.7 455.0,580.3 458.7,589.1 462.3,584.9 465.9,590.1 469.5,589.2 473.1,598.9 476.7,606.7 480.4,610.9 484.0,608.2 487.6,594.1 491.2,574.8 494.8,578.4 498.5,578.6 502.1,586.3 505.7,585.0 509.3,591.6 512.9,596.4 516.6,602.1 520.2,597.6 523.8,596.3 527.4,599.0 531.0,602.3 534.7,596.3 538.3,591.3 541.9,568.7 545.5,558.4 549.1,567.5 552.8,562.6 556.4,569.9 560.0,558.6 563.6,557.4 567.2,566.5 570.9,558.5 574.5,551.4 578.1,549.3 581.7,559.0 585.3,565.3 589.0,564.5 592.6,557.3 596.2,565.9 599.8,565.6 603.4,557.2 607.1,563.7 610.7,563.7 614.3,571.8 617.9,575.5 621.5,572.9 625.2,574.9 628.8,574.1 632.4,581.9 636.0,571.5 639.6,568.1 643.3,557.2 646.9,565.7 650.5,573.6 654.1,573.9 657.7,569.9 661.3,568.3 665.0,567.8 668.6,568.1 672.2,568.6 675.8,564.1 679.4,554.5 683.1,569.4 686.7,573.3 690.3,573.0 693.9,552.1 697.5,555.2 701.2,569.8 704.8,576.5 708.4,570.0 712.0,559.7 715.6,562.9 719.3,554.7 722.9,551.1 726.5,564.3 730.1,574.1 733.7,576.6 737.4,574.4 741.0,573.0 744.6,575.7 748.2,578.0 751.8,583.4 755.5,576.7 759.1,566.7 762.7,565.6 766.3,562.9 769.9,568.1 773.6,569.4 777.2,564.0 780.8,575.3 784.4,561.3 788.0,553.5 791.7,552.3 795.3,549.0 798.9,544.9 802.5,542.5 806.1,541.6 809.8,534.7 813.4,544.3 817.0,548.3 820.6,542.6 824.2,533.9 827.9,529.1 831.5,545.6 835.1,538.4 838.7,543.4 842.3,539.4 845.9,538.2 849.6,544.4 853.2,543.3 856.8,536.2 860.4,539.1 864.0,534.2 867.7,529.0 871.3,533.7 874.9,541.1 878.5,532.8 882.1,533.3 885.8,531.3 889.4,542.4 893.0,540.5 896.6,534.7 900.2,549.6 903.9,548.5 907.5,547.4 911.1,543.8 914.7,539.0 918.3,558.9 922.0,568.0 925.6,578.7 929.2,563.2 932.8,575.7 936.4,582.0 940.1,575.5 943.7,566.8 947.3,569.6 950.9,565.3 954.5,564.5 958.2,560.2 961.8,562.5 965.4,566.5 969.0,564.3 972.6,563.1 976.3,570.2 979.9,574.2 983.5,567.0 987.1,566.9 990.7,575.5 994.4,575.3 998.0,575.9 1001.6,575.0 1005.2,570.8 1008.8,563.3 1012.4,558.0 1016.1,558.0 1019.7,555.3 1023.3,559.0 1026.9,547.9 1030.5,567.0 1034.2,566.8 1037.8,565.1 1041.4,556.2 1045.0,555.3 1048.6,549.5 1052.3,548.2" fill="none" stroke="#4068c9" stroke-width="2" stroke-linejoin="round"/>
</g>
<!-- arrow -->
<g>
<g filter="url(#sh)" opacity="0.38" transform="translate(4.5,3)">
<line x1="1066.6" y1="119.5" x2="1078.5" y2="89.3" stroke="#000" stroke-width="2.8" stroke-linecap="round"/>
<polygon points="1081.5,81.9 1074.4,87.8 1082.5,90.9" fill="#000"/>
</g>
<line x1="1066.6" y1="119.5" x2="1078.5" y2="89.3" stroke="#0a0a0a" stroke-width="2.8" stroke-linecap="round"/>
<polygon points="1081.5,81.9 1074.4,87.8 1082.5,90.9" fill="#0a0a0a" stroke="#0a0a0a" stroke-width="0.6" stroke-linejoin="round"/>
</g>
<!-- axes -->
<g shape-rendering="crispEdges">
<rect x="1196" y="27" width="1" height="671" fill="#000"/>
<rect x="10" y="672" width="1238" height="1" fill="#000"/>
</g>
<g clip-path="url(#cp)">
<text x="1204.6" y="447.0" font-size="9.5" fill="#4a4a4a" text-anchor="start" textLength="34.5" lengthAdjust="spacingAndGlyphs" >156.000</text>
<text x="1204.6" y="409.2" font-size="9.5" fill="#4a4a4a" text-anchor="start" textLength="34.5" lengthAdjust="spacingAndGlyphs" >158.000</text>
<text x="1204.6" y="371.5" font-size="9.5" fill="#4a4a4a" text-anchor="start" textLength="34.5" lengthAdjust="spacingAndGlyphs" >160.000</text>
<text x="1204.6" y="333.8" font-size="9.5" fill="#4a4a4a" text-anchor="start" textLength="34.5" lengthAdjust="spacingAndGlyphs" >162.000</text>
<text x="1204.6" y="296.0" font-size="9.5" fill="#4a4a4a" text-anchor="start" textLength="34.5" lengthAdjust="spacingAndGlyphs" >164.000</text>
<text x="1204.6" y="258.2" font-size="9.5" fill="#4a4a4a" text-anchor="start" textLength="34.5" lengthAdjust="spacingAndGlyphs" >166.000</text>
<text x="1204.6" y="220.5" font-size="9.5" fill="#4a4a4a" text-anchor="start" textLength="34.5" lengthAdjust="spacingAndGlyphs" >168.000</text>
<text x="1204.6" y="182.8" font-size="9.5" fill="#4a4a4a" text-anchor="start" textLength="34.5" lengthAdjust="spacingAndGlyphs" >170.000</text>
<text x="1204.6" y="145.0" font-size="9.5" fill="#4a4a4a" text-anchor="start" textLength="34.5" lengthAdjust="spacingAndGlyphs" >172.000</text>
<text x="1204.6" y="69.5" font-size="9.5" fill="#4a4a4a" text-anchor="start" textLength="34.5" lengthAdjust="spacingAndGlyphs" >176.000</text>
<text x="1204.6" y="31.8" font-size="9.5" fill="#4a4a4a" text-anchor="start" textLength="34.5" lengthAdjust="spacingAndGlyphs" >178.000</text>
<text x="1204.2" y="668.1" font-size="9.5" fill="#4a4a4a" text-anchor="start" textLength="19.7" lengthAdjust="spacingAndGlyphs" >0.00</text>
<text x="1204.2" y="632.6" font-size="9.5" fill="#4a4a4a" text-anchor="start" textLength="24.7" lengthAdjust="spacingAndGlyphs" >20.00</text>
<text x="1204.2" y="597.0" font-size="9.5" fill="#4a4a4a" text-anchor="start" textLength="24.7" lengthAdjust="spacingAndGlyphs" >40.00</text>
<text x="1204.2" y="561.5" font-size="9.5" fill="#4a4a4a" text-anchor="start" textLength="24.7" lengthAdjust="spacingAndGlyphs" >60.00</text>
<text x="1204.2" y="525.9" font-size="9.5" fill="#4a4a4a" text-anchor="start" textLength="24.7" lengthAdjust="spacingAndGlyphs" >80.00</text>
<text x="1204.2" y="490.4" font-size="9.5" fill="#4a4a4a" text-anchor="start" textLength="29.9" lengthAdjust="spacingAndGlyphs" >100.00</text>
</g>
<!-- price labels boxes -->
<g>
<rect x="1197" y="70" width="48" height="14.5" rx="2" fill="#9c9ea8"/>
<rect x="1197" y="86.2" width="48" height="14" rx="2" fill="#9c9ea8"/>
<rect x="1197" y="100.2" width="48" height="14.5" rx="2" fill="#000"/>
<rect x="1197" y="116.2" width="48" height="14.5" rx="2" fill="#9c9ea8"/>
</g>
<text x="10" y="19" font-size="12" fill="#1e1e1e" text-anchor="start" textLength="394.5" lengthAdjust="spacingAndGlyphs" >Matt_Simpson created with TradingView.com, Sep 17, 2025 08:28 UTC+10</text>
<text x="18.3" y="46.2" font-size="12" fill="#3a3a3a" text-anchor="start" textLength="108" lengthAdjust="spacingAndGlyphs" >Euro / Japanese Yen</text>
<text x="131.5" y="46.2" font-size="12" fill="#3a3a3a" text-anchor="start" >·</text>
<text x="139.2" y="46.2" font-size="12" fill="#3a3a3a" text-anchor="start" textLength="13" lengthAdjust="spacingAndGlyphs" >1D</text>
<text x="156.5" y="46.2" font-size="12" fill="#3a3a3a" text-anchor="start" >·</text>
<text x="164.6" y="46.2" font-size="12" fill="#3a3a3a" text-anchor="start" textLength="16" lengthAdjust="spacingAndGlyphs" >ICE</text>
<text x="188.8" y="46.2" font-size="12" fill="#2a2a2a" text-anchor="start" textLength="49.6" lengthAdjust="spacingAndGlyphs" >O173.733</text>
<text x="245.9" y="46.2" font-size="12" fill="#2a2a2a" text-anchor="start" textLength="50" lengthAdjust="spacingAndGlyphs" >H173.844</text>
<text x="303.5" y="46.2" font-size="12" fill="#2a2a2a" text-anchor="start" textLength="48" lengthAdjust="spacingAndGlyphs" >L173.733</text>
<text x="359" y="46.2" font-size="12" fill="#2a2a2a" text-anchor="start" textLength="48.6" lengthAdjust="spacingAndGlyphs" >C173.833</text>
<text x="415" y="46.2" font-size="12" fill="#2a2a2a" text-anchor="start" textLength="84.7" lengthAdjust="spacingAndGlyphs" >+0.103 (+0.06%)</text>
<text x="18.3" y="63.1" font-size="12" fill="#3a3a3a" text-anchor="start" textLength="54.7" lengthAdjust="spacingAndGlyphs" >MA Ribbon</text>
<text x="81.9" y="63.1" font-size="12" fill="#4a90e2" text-anchor="start" textLength="41.4" lengthAdjust="spacingAndGlyphs" >172.738</text>
<text x="131.5" y="63.1" font-size="12" fill="#b22839" text-anchor="start" textLength="40.1" lengthAdjust="spacingAndGlyphs" >171.601</text>
<text x="18.3" y="495.5" font-size="12" fill="#3a3a3a" text-anchor="start" textLength="16.5" lengthAdjust="spacingAndGlyphs" >RSI</text>
<text x="41.5" y="495.5" font-size="12" fill="#2f57c4" text-anchor="start" textLength="29" lengthAdjust="spacingAndGlyphs" >64.42</text>
<text x="18.3" y="512.8" font-size="12" fill="#3a3a3a" text-anchor="start" textLength="16.5" lengthAdjust="spacingAndGlyphs" >RSI</text>
<text x="41.5" y="512.8" font-size="12" fill="#2f57c4" text-anchor="start" textLength="29" lengthAdjust="spacingAndGlyphs" >95.69</text>
<text x="67" y="687.6" font-size="9.5" fill="#5a5a5a" text-anchor="middle" textLength="16" lengthAdjust="spacingAndGlyphs" >Sep</text>
<text x="143.7" y="687.6" font-size="9.5" fill="#5a5a5a" text-anchor="middle" textLength="15.5" lengthAdjust="spacingAndGlyphs" >Oct</text>
<text x="227" y="687.6" font-size="9.5" fill="#5a5a5a" text-anchor="middle" textLength="16.8" lengthAdjust="spacingAndGlyphs" >Nov</text>
<text x="303" y="687.6" font-size="9.5" fill="#5a5a5a" text-anchor="middle" textLength="17" lengthAdjust="spacingAndGlyphs" >Dec</text>
<text x="381.8" y="687.6" font-size="9.5" fill="#5a5a5a" text-anchor="middle" textLength="22.3" lengthAdjust="spacingAndGlyphs" >2025</text>
<text x="465" y="687.6" font-size="9.5" fill="#5a5a5a" text-anchor="middle" textLength="16" lengthAdjust="spacingAndGlyphs" >Feb</text>
<text x="538" y="687.6" font-size="9.5" fill="#5a5a5a" text-anchor="middle" textLength="16.5" lengthAdjust="spacingAndGlyphs" >Mar</text>
<text x="614" y="687.6" font-size="9.5" fill="#5a5a5a" text-anchor="middle" textLength="14.5" lengthAdjust="spacingAndGlyphs" >Apr</text>
<text x="693.4" y="687.6" font-size="9.5" fill="#5a5a5a" text-anchor="middle" textLength="17.5" lengthAdjust="spacingAndGlyphs" >May</text>
<text x="773" y="687.6" font-size="9.5" fill="#5a5a5a" text-anchor="middle" textLength="15" lengthAdjust="spacingAndGlyphs" >Jun</text>
<text x="849.6" y="687.6" font-size="9.5" fill="#5a5a5a" text-anchor="middle" textLength="12.5" lengthAdjust="spacingAndGlyphs" >Jul</text>
<text x="932" y="687.6" font-size="9.5" fill="#5a5a5a" text-anchor="middle" textLength="17.5" lengthAdjust="spacingAndGlyphs" >Aug</text>
<text x="1008" y="687.6" font-size="9.5" fill="#5a5a5a" text-anchor="middle" textLength="16" lengthAdjust="spacingAndGlyphs" >Sep</text>
<text x="1088" y="687.6" font-size="9.5" fill="#5a5a5a" text-anchor="middle" textLength="15.5" lengthAdjust="spacingAndGlyphs" >Oct</text>
<text x="1171.3" y="687.6" font-size="9.5" fill="#5a5a5a" text-anchor="middle" textLength="16.8" lengthAdjust="spacingAndGlyphs" >Nov</text>
<text x="796.2" y="108.8" font-size="13" fill="#2e3266" text-anchor="middle" textLength="154.7" lengthAdjust="spacingAndGlyphs" font-style="italic">A move to the 2024 high is</text>
<text x="795.7" y="124.8" font-size="13" fill="#2e3266" text-anchor="middle" textLength="120" lengthAdjust="spacingAndGlyphs" font-style="italic">no the radar for bulls</text>
<text x="1147.7" y="81.3" font-size="9.6" fill="#9598a1" text-anchor="start" textLength="42.5" lengthAdjust="spacingAndGlyphs" >2024 high</text>
<text x="1204.6" y="81.3" font-size="9.5" fill="#26262a" textLength="34.5" lengthAdjust="spacingAndGlyphs">175.427</text>
<text x="1204.6" y="97.6" font-size="9.5" fill="#26262a" textLength="34.5" lengthAdjust="spacingAndGlyphs">174.000</text>
<text x="1204.6" y="111.5" font-size="9.5" font-weight="bold" fill="#fff" textLength="34.8" lengthAdjust="spacingAndGlyphs">173.833</text>
<text x="1204.6" y="127.3" font-size="9.5" fill="#26262a" textLength="34.5" lengthAdjust="spacingAndGlyphs">173.000</text>
<!-- logo -->
<g transform="translate(11.9,716.9) scale(0.84,0.806)" fill="#131313">
<path d="M14 22H7V11H0V4h14v18z"/><path d="M28 22h-8l7.5-18h8L28 22z"/><circle cx="20" cy="8" r="4"/>
</g>
<text x="49.3" y="734.7" font-size="20" font-weight="bold" fill="#131313" textLength="120.5" lengthAdjust="spacingAndGlyphs">TradingView</text>
</svg>
</body></html>
